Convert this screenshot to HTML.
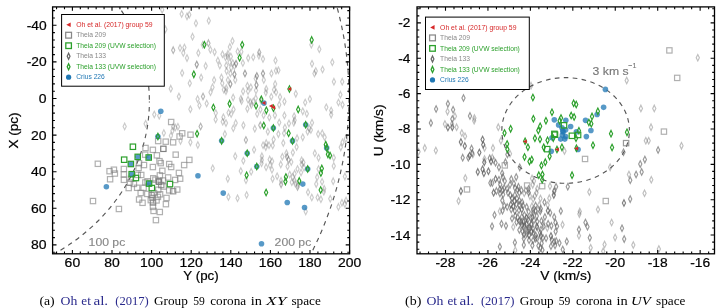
<!DOCTYPE html><html><head><meta charset="utf-8"><style>html,body{margin:0;padding:0;background:#fff;width:725px;height:308px;overflow:hidden}svg{display:block;will-change:transform}text{font-family:"Liberation Sans",sans-serif}.serif{font-family:"Liberation Serif",serif}</style></head><body>
<svg width="725" height="308" viewBox="0 0 725 308">
<defs><clipPath id="cl"><rect x="52.6" y="6.9" width="297.0" height="246.9"/></clipPath><clipPath id="cr"><rect x="417.0" y="6.9" width="297.5" height="246.9"/></clipPath></defs>
<g clip-path="url(#cl)">
<ellipse cx="-57.12" cy="101.52" rx="206.52" ry="180.89" fill="none" stroke="#444" stroke-width="1.15" stroke-dasharray="4.6 4.4" stroke-dashoffset="3.55" stroke-opacity="0.9"/>
<ellipse cx="-48.65" cy="96.84" rx="397.7" ry="367.6" fill="none" stroke="#444" stroke-width="1.15" stroke-dasharray="4.6 4.4" stroke-dashoffset="7.6" stroke-opacity="0.9"/>
<path d="M162.18 6.62L163.78 9.87L162.18 13.12L160.58 9.87Z" fill="none" stroke="#606060" stroke-width="1.15" stroke-opacity="0.33" stroke-miterlimit="3"/>
<path d="M181.66 10.68L183.26 13.93L181.66 17.18L180.06 13.93Z" fill="none" stroke="#606060" stroke-width="1.15" stroke-opacity="0.33" stroke-miterlimit="3"/>
<path d="M187.01 13.11L188.61 16.36L187.01 19.61L185.41 16.36Z" fill="none" stroke="#606060" stroke-width="1.15" stroke-opacity="0.33" stroke-miterlimit="3"/>
<path d="M189.29 11.49L190.89 14.74L189.29 17.99L187.69 14.74Z" fill="none" stroke="#606060" stroke-width="1.15" stroke-opacity="0.33" stroke-miterlimit="3"/>
<path d="M195.94 19.93L197.54 23.18L195.94 26.43L194.34 23.18Z" fill="none" stroke="#606060" stroke-width="1.15" stroke-opacity="0.33" stroke-miterlimit="3"/>
<path d="M208.77 17.5L210.37 20.75L208.77 24L207.17 20.75Z" fill="none" stroke="#606060" stroke-width="1.15" stroke-opacity="0.33" stroke-miterlimit="3"/>
<path d="M192.53 33.41L194.13 36.66L192.53 39.91L190.93 36.66Z" fill="none" stroke="#606060" stroke-width="1.15" stroke-opacity="0.33" stroke-miterlimit="3"/>
<path d="M165.42 26.1L167.02 29.35L165.42 32.6L163.82 29.35Z" fill="none" stroke="#606060" stroke-width="1.15" stroke-opacity="0.33" stroke-miterlimit="3"/>
<path d="M173.21 46.88L174.81 50.13L173.21 53.38L171.61 50.13Z" fill="none" stroke="#606060" stroke-width="1.15" stroke-opacity="0.46" stroke-miterlimit="3"/>
<path d="M180.03 44.77L181.63 48.02L180.03 51.27L178.43 48.02Z" fill="none" stroke="#606060" stroke-width="1.15" stroke-opacity="0.33" stroke-miterlimit="3"/>
<path d="M184.42 44.28L186.02 47.53L184.42 50.78L182.82 47.53Z" fill="none" stroke="#606060" stroke-width="1.15" stroke-opacity="0.33" stroke-miterlimit="3"/>
<path d="M183.28 49.64L184.88 52.89L183.28 56.14L181.68 52.89Z" fill="none" stroke="#606060" stroke-width="1.15" stroke-opacity="0.33" stroke-miterlimit="3"/>
<path d="M202.76 41.52L204.36 44.77L202.76 48.02L201.16 44.77Z" fill="none" stroke="#606060" stroke-width="1.15" stroke-opacity="0.33" stroke-miterlimit="3"/>
<path d="M208.44 39.9L210.04 43.15L208.44 46.4L206.84 43.15Z" fill="none" stroke="#606060" stroke-width="1.15" stroke-opacity="0.46" stroke-miterlimit="3"/>
<path d="M210.39 46.39L211.99 49.64L210.39 52.89L208.79 49.64Z" fill="none" stroke="#606060" stroke-width="1.15" stroke-opacity="0.33" stroke-miterlimit="3"/>
<path d="M214.61 48.83L216.21 52.08L214.61 55.33L213.01 52.08Z" fill="none" stroke="#606060" stroke-width="1.15" stroke-opacity="0.33" stroke-miterlimit="3"/>
<path d="M198.38 49.64L199.98 52.89L198.38 56.14L196.78 52.89Z" fill="none" stroke="#606060" stroke-width="1.15" stroke-opacity="0.33" stroke-miterlimit="3"/>
<path d="M232.47 37.79L234.07 41.04L232.47 44.29L230.87 41.04Z" fill="none" stroke="#606060" stroke-width="1.15" stroke-opacity="0.33" stroke-miterlimit="3"/>
<path d="M229.87 43.63L231.47 46.88L229.87 50.13L228.27 46.88Z" fill="none" stroke="#606060" stroke-width="1.15" stroke-opacity="0.33" stroke-miterlimit="3"/>
<path d="M237.66 48.19L239.26 51.44L237.66 54.69L236.06 51.44Z" fill="none" stroke="#606060" stroke-width="1.15" stroke-opacity="0.33" stroke-miterlimit="3"/>
<path d="M241.31 48.6L242.91 51.85L241.31 55.1L239.71 51.85Z" fill="none" stroke="#606060" stroke-width="1.15" stroke-opacity="0.33" stroke-miterlimit="3"/>
<path d="M222.48 51.04L224.08 54.29L222.48 57.54L220.88 54.29Z" fill="none" stroke="#606060" stroke-width="1.15" stroke-opacity="0.33" stroke-miterlimit="3"/>
<path d="M227.92 50.45L229.52 53.7L227.92 56.95L226.32 53.7Z" fill="none" stroke="#606060" stroke-width="1.15" stroke-opacity="0.33" stroke-miterlimit="3"/>
<path d="M311.36 41.52L312.96 44.77L311.36 48.02L309.76 44.77Z" fill="none" stroke="#606060" stroke-width="1.15" stroke-opacity="0.33" stroke-miterlimit="3"/>
<path d="M319.32 45.91L320.92 49.16L319.32 52.41L317.72 49.16Z" fill="none" stroke="#606060" stroke-width="1.15" stroke-opacity="0.33" stroke-miterlimit="3"/>
<path d="M259.25 49.15L260.85 52.4L259.25 55.65L257.65 52.4Z" fill="none" stroke="#606060" stroke-width="1.15" stroke-opacity="0.46" stroke-miterlimit="3"/>
<path d="M187.01 54.87L188.61 58.12L187.01 61.37L185.41 58.12Z" fill="none" stroke="#606060" stroke-width="1.15" stroke-opacity="0.33" stroke-miterlimit="3"/>
<path d="M196.75 61.36L198.35 64.61L196.75 67.86L195.15 64.61Z" fill="none" stroke="#606060" stroke-width="1.15" stroke-opacity="0.58" stroke-miterlimit="3"/>
<path d="M205.68 62.66L207.28 65.91L205.68 69.16L204.08 65.91Z" fill="none" stroke="#606060" stroke-width="1.15" stroke-opacity="0.33" stroke-miterlimit="3"/>
<path d="M182.14 69.8L183.74 73.05L182.14 76.3L180.54 73.05Z" fill="none" stroke="#606060" stroke-width="1.15" stroke-opacity="0.33" stroke-miterlimit="3"/>
<path d="M201.14 74.35L202.74 77.6L201.14 80.85L199.54 77.6Z" fill="none" stroke="#606060" stroke-width="1.15" stroke-opacity="0.33" stroke-miterlimit="3"/>
<path d="M189.77 80.03L191.37 83.28L189.77 86.53L188.17 83.28Z" fill="none" stroke="#606060" stroke-width="1.15" stroke-opacity="0.33" stroke-miterlimit="3"/>
<path d="M170.78 85.39L172.38 88.64L170.78 91.89L169.18 88.64Z" fill="none" stroke="#606060" stroke-width="1.15" stroke-opacity="0.33" stroke-miterlimit="3"/>
<path d="M178.93 93.36L180.53 96.61L178.93 99.86L177.33 96.61Z" fill="none" stroke="#606060" stroke-width="1.15" stroke-opacity="0.33" stroke-miterlimit="3"/>
<path d="M203.03 93.32L204.63 96.57L203.03 99.82L201.43 96.57Z" fill="none" stroke="#606060" stroke-width="1.15" stroke-opacity="0.46" stroke-miterlimit="3"/>
<path d="M197.6 95.87L199.2 99.12L197.6 102.37L196 99.12Z" fill="none" stroke="#606060" stroke-width="1.15" stroke-opacity="0.33" stroke-miterlimit="3"/>
<path d="M214.12 76.78L215.72 80.03L214.12 83.28L212.52 80.03Z" fill="none" stroke="#606060" stroke-width="1.15" stroke-opacity="0.33" stroke-miterlimit="3"/>
<path d="M212.5 84.09L214.1 87.34L212.5 90.59L210.9 87.34Z" fill="none" stroke="#606060" stroke-width="1.15" stroke-opacity="0.33" stroke-miterlimit="3"/>
<path d="M210.52 88.99L212.12 92.24L210.52 95.49L208.92 92.24Z" fill="none" stroke="#606060" stroke-width="1.15" stroke-opacity="0.33" stroke-miterlimit="3"/>
<path d="M217.86 57.3L219.46 60.55L217.86 63.8L216.26 60.55Z" fill="none" stroke="#606060" stroke-width="1.15" stroke-opacity="0.33" stroke-miterlimit="3"/>
<path d="M219.81 62.17L221.41 65.42L219.81 68.67L218.21 65.42Z" fill="none" stroke="#606060" stroke-width="1.15" stroke-opacity="0.33" stroke-miterlimit="3"/>
<path d="M225.49 54.06L227.09 57.31L225.49 60.56L223.89 57.31Z" fill="none" stroke="#606060" stroke-width="1.15" stroke-opacity="0.33" stroke-miterlimit="3"/>
<path d="M227.6 53.24L229.2 56.49L227.6 59.74L226 56.49Z" fill="none" stroke="#606060" stroke-width="1.15" stroke-opacity="0.33" stroke-miterlimit="3"/>
<path d="M230.84 53.24L232.44 56.49L230.84 59.74L229.24 56.49Z" fill="none" stroke="#606060" stroke-width="1.15" stroke-opacity="0.33" stroke-miterlimit="3"/>
<path d="M226.3 62.17L227.9 65.42L226.3 68.67L224.7 65.42Z" fill="none" stroke="#606060" stroke-width="1.15" stroke-opacity="0.33" stroke-miterlimit="3"/>
<path d="M229.55 58.93L231.15 62.18L229.55 65.43L227.95 62.18Z" fill="none" stroke="#606060" stroke-width="1.15" stroke-opacity="0.33" stroke-miterlimit="3"/>
<path d="M232.79 59.74L234.39 62.99L232.79 66.24L231.19 62.99Z" fill="none" stroke="#606060" stroke-width="1.15" stroke-opacity="0.33" stroke-miterlimit="3"/>
<path d="M236.04 60.55L237.64 63.8L236.04 67.05L234.44 63.8Z" fill="none" stroke="#606060" stroke-width="1.15" stroke-opacity="0.58" stroke-miterlimit="3"/>
<path d="M234.42 62.98L236.02 66.23L234.42 69.48L232.82 66.23Z" fill="none" stroke="#606060" stroke-width="1.15" stroke-opacity="0.33" stroke-miterlimit="3"/>
<path d="M231.17 64.61L232.77 67.86L231.17 71.11L229.57 67.86Z" fill="none" stroke="#606060" stroke-width="1.15" stroke-opacity="0.33" stroke-miterlimit="3"/>
<path d="M226.62 67.85L228.22 71.1L226.62 74.35L225.02 71.1Z" fill="none" stroke="#606060" stroke-width="1.15" stroke-opacity="0.33" stroke-miterlimit="3"/>
<path d="M230.36 70.29L231.96 73.54L230.36 76.79L228.76 73.54Z" fill="none" stroke="#606060" stroke-width="1.15" stroke-opacity="0.33" stroke-miterlimit="3"/>
<path d="M221.43 74.35L223.03 77.6L221.43 80.85L219.83 77.6Z" fill="none" stroke="#606060" stroke-width="1.15" stroke-opacity="0.33" stroke-miterlimit="3"/>
<path d="M227.92 76.78L229.52 80.03L227.92 83.28L226.32 80.03Z" fill="none" stroke="#606060" stroke-width="1.15" stroke-opacity="0.33" stroke-miterlimit="3"/>
<path d="M222.24 80.03L223.84 83.28L222.24 86.53L220.64 83.28Z" fill="none" stroke="#606060" stroke-width="1.15" stroke-opacity="0.33" stroke-miterlimit="3"/>
<path d="M234.42 71.1L236.02 74.35L234.42 77.6L232.82 74.35Z" fill="none" stroke="#606060" stroke-width="1.15" stroke-opacity="0.58" stroke-miterlimit="3"/>
<path d="M235.23 76.78L236.83 80.03L235.23 83.28L233.63 80.03Z" fill="none" stroke="#606060" stroke-width="1.15" stroke-opacity="0.33" stroke-miterlimit="3"/>
<path d="M230.36 80.84L231.96 84.09L230.36 87.34L228.76 84.09Z" fill="none" stroke="#606060" stroke-width="1.15" stroke-opacity="0.58" stroke-miterlimit="3"/>
<path d="M226.3 84.9L227.9 88.15L226.3 91.4L224.7 88.15Z" fill="none" stroke="#606060" stroke-width="1.15" stroke-opacity="0.33" stroke-miterlimit="3"/>
<path d="M223.86 86.52L225.46 89.77L223.86 93.02L222.26 89.77Z" fill="none" stroke="#606060" stroke-width="1.15" stroke-opacity="0.33" stroke-miterlimit="3"/>
<path d="M242.86 59.74L244.46 62.99L242.86 66.24L241.26 62.99Z" fill="none" stroke="#606060" stroke-width="1.15" stroke-opacity="0.33" stroke-miterlimit="3"/>
<path d="M244.97 70.29L246.57 73.54L244.97 76.79L243.37 73.54Z" fill="none" stroke="#606060" stroke-width="1.15" stroke-opacity="0.58" stroke-miterlimit="3"/>
<path d="M248.21 54.87L249.81 58.12L248.21 61.37L246.61 58.12Z" fill="none" stroke="#606060" stroke-width="1.15" stroke-opacity="0.33" stroke-miterlimit="3"/>
<path d="M247.4 82.46L249 85.71L247.4 88.96L245.8 85.71Z" fill="none" stroke="#606060" stroke-width="1.15" stroke-opacity="0.33" stroke-miterlimit="3"/>
<path d="M243.1 88.1L244.7 91.35L243.1 94.6L241.5 91.35Z" fill="none" stroke="#606060" stroke-width="1.15" stroke-opacity="0.33" stroke-miterlimit="3"/>
<path d="M233.15 94.19L234.75 97.44L233.15 100.69L231.55 97.44Z" fill="none" stroke="#606060" stroke-width="1.15" stroke-opacity="0.33" stroke-miterlimit="3"/>
<path d="M240.91 95.45L242.51 98.7L240.91 101.95L239.31 98.7Z" fill="none" stroke="#606060" stroke-width="1.15" stroke-opacity="0.33" stroke-miterlimit="3"/>
<path d="M258.93 52.43L260.53 55.68L258.93 58.93L257.33 55.68Z" fill="none" stroke="#606060" stroke-width="1.15" stroke-opacity="0.33" stroke-miterlimit="3"/>
<path d="M253.25 54.06L254.85 57.31L253.25 60.56L251.65 57.31Z" fill="none" stroke="#606060" stroke-width="1.15" stroke-opacity="0.33" stroke-miterlimit="3"/>
<path d="M262.99 55.68L264.59 58.93L262.99 62.18L261.39 58.93Z" fill="none" stroke="#606060" stroke-width="1.15" stroke-opacity="0.33" stroke-miterlimit="3"/>
<path d="M275.49 57.3L277.09 60.55L275.49 63.8L273.89 60.55Z" fill="none" stroke="#606060" stroke-width="1.15" stroke-opacity="0.33" stroke-miterlimit="3"/>
<path d="M312.01 60.55L313.61 63.8L312.01 67.05L310.41 63.8Z" fill="none" stroke="#606060" stroke-width="1.15" stroke-opacity="0.33" stroke-miterlimit="3"/>
<path d="M332.31 58.93L333.91 62.18L332.31 65.43L330.71 62.18Z" fill="none" stroke="#606060" stroke-width="1.15" stroke-opacity="0.33" stroke-miterlimit="3"/>
<path d="M322.56 66.23L324.16 69.48L322.56 72.73L320.96 69.48Z" fill="none" stroke="#606060" stroke-width="1.15" stroke-opacity="0.33" stroke-miterlimit="3"/>
<path d="M315.75 67.85L317.35 71.1L315.75 74.35L314.15 71.1Z" fill="none" stroke="#606060" stroke-width="1.15" stroke-opacity="0.33" stroke-miterlimit="3"/>
<path d="M314.45 70.29L316.05 73.54L314.45 76.79L312.85 73.54Z" fill="none" stroke="#606060" stroke-width="1.15" stroke-opacity="0.33" stroke-miterlimit="3"/>
<path d="M333.93 78.41L335.53 81.66L333.93 84.91L332.33 81.66Z" fill="none" stroke="#606060" stroke-width="1.15" stroke-opacity="0.33" stroke-miterlimit="3"/>
<path d="M342.21 78.41L343.81 81.66L342.21 84.91L340.61 81.66Z" fill="none" stroke="#606060" stroke-width="1.15" stroke-opacity="0.33" stroke-miterlimit="3"/>
<path d="M340.42 91.39L342.02 94.64L340.42 97.89L338.82 94.64Z" fill="none" stroke="#606060" stroke-width="1.15" stroke-opacity="0.33" stroke-miterlimit="3"/>
<path d="M309.9 95.69L311.5 98.94L309.9 102.19L308.3 98.94Z" fill="none" stroke="#606060" stroke-width="1.15" stroke-opacity="0.33" stroke-miterlimit="3"/>
<path d="M271.43 70.29L273.03 73.54L271.43 76.79L269.83 73.54Z" fill="none" stroke="#606060" stroke-width="1.15" stroke-opacity="0.33" stroke-miterlimit="3"/>
<path d="M275.97 67.53L277.57 70.78L275.97 74.03L274.37 70.78Z" fill="none" stroke="#606060" stroke-width="1.15" stroke-opacity="0.33" stroke-miterlimit="3"/>
<path d="M278.41 67.04L280.01 70.29L278.41 73.54L276.81 70.29Z" fill="none" stroke="#606060" stroke-width="1.15" stroke-opacity="0.33" stroke-miterlimit="3"/>
<path d="M262.99 70.29L264.59 73.54L262.99 76.79L261.39 73.54Z" fill="none" stroke="#606060" stroke-width="1.15" stroke-opacity="0.58" stroke-miterlimit="3"/>
<path d="M263.8 76.78L265.4 80.03L263.8 83.28L262.2 80.03Z" fill="none" stroke="#606060" stroke-width="1.15" stroke-opacity="0.33" stroke-miterlimit="3"/>
<path d="M256.82 72.72L258.42 75.97L256.82 79.22L255.22 75.97Z" fill="none" stroke="#606060" stroke-width="1.15" stroke-opacity="0.58" stroke-miterlimit="3"/>
<path d="M255.68 75.16L257.28 78.41L255.68 81.66L254.08 78.41Z" fill="none" stroke="#606060" stroke-width="1.15" stroke-opacity="0.33" stroke-miterlimit="3"/>
<path d="M256.49 81.65L258.09 84.9L256.49 88.15L254.89 84.9Z" fill="none" stroke="#606060" stroke-width="1.15" stroke-opacity="0.58" stroke-miterlimit="3"/>
<path d="M256.01 87.29L257.61 90.54L256.01 93.79L254.41 90.54Z" fill="none" stroke="#606060" stroke-width="1.15" stroke-opacity="0.33" stroke-miterlimit="3"/>
<path d="M250.81 84.09L252.41 87.34L250.81 90.59L249.21 87.34Z" fill="none" stroke="#606060" stroke-width="1.15" stroke-opacity="0.33" stroke-miterlimit="3"/>
<path d="M266.23 85.71L267.83 88.96L266.23 92.21L264.63 88.96Z" fill="none" stroke="#606060" stroke-width="1.15" stroke-opacity="0.33" stroke-miterlimit="3"/>
<path d="M275.16 80.84L276.76 84.09L275.16 87.34L273.56 84.09Z" fill="none" stroke="#606060" stroke-width="1.15" stroke-opacity="0.33" stroke-miterlimit="3"/>
<path d="M274.03 86.52L275.63 89.77L274.03 93.02L272.43 89.77Z" fill="none" stroke="#606060" stroke-width="1.15" stroke-opacity="0.33" stroke-miterlimit="3"/>
<path d="M276.06 88.99L277.66 92.24L276.06 95.49L274.46 92.24Z" fill="none" stroke="#606060" stroke-width="1.15" stroke-opacity="0.33" stroke-miterlimit="3"/>
<path d="M265.83 89.23L267.43 92.48L265.83 95.73L264.23 92.48Z" fill="none" stroke="#606060" stroke-width="1.15" stroke-opacity="0.33" stroke-miterlimit="3"/>
<path d="M271.27 93.54L272.87 96.79L271.27 100.04L269.67 96.79Z" fill="none" stroke="#606060" stroke-width="1.15" stroke-opacity="0.33" stroke-miterlimit="3"/>
<path d="M280.03 93.83L281.63 97.08L280.03 100.33L278.43 97.08Z" fill="none" stroke="#606060" stroke-width="1.15" stroke-opacity="0.33" stroke-miterlimit="3"/>
<path d="M295.78 90.58L297.38 93.83L295.78 97.08L294.18 93.83Z" fill="none" stroke="#606060" stroke-width="1.15" stroke-opacity="0.33" stroke-miterlimit="3"/>
<path d="M255.76 94.92L257.36 98.17L255.76 101.42L254.16 98.17Z" fill="none" stroke="#606060" stroke-width="1.15" stroke-opacity="0.33" stroke-miterlimit="3"/>
<path d="M124.68 123.15L126.28 126.4L124.68 129.65L123.08 126.4Z" fill="none" stroke="#606060" stroke-width="1.15" stroke-opacity="0.33" stroke-miterlimit="3"/>
<path d="M145.62 120.52L147.22 123.77L145.62 127.02L144.02 123.77Z" fill="none" stroke="#606060" stroke-width="1.15" stroke-opacity="0.33" stroke-miterlimit="3"/>
<path d="M257.22 110.74L258.82 113.99L257.22 117.24L255.62 113.99Z" fill="none" stroke="#606060" stroke-width="1.15" stroke-opacity="0.33" stroke-miterlimit="3"/>
<path d="M253.25 98.37L254.85 101.62L253.25 104.87L251.65 101.62Z" fill="none" stroke="#606060" stroke-width="1.15" stroke-opacity="0.33" stroke-miterlimit="3"/>
<path d="M261.04 97.56L262.64 100.81L261.04 104.06L259.44 100.81Z" fill="none" stroke="#606060" stroke-width="1.15" stroke-opacity="0.33" stroke-miterlimit="3"/>
<path d="M274.92 112.12L276.52 115.37L274.92 118.62L273.32 115.37Z" fill="none" stroke="#606060" stroke-width="1.15" stroke-opacity="0.33" stroke-miterlimit="3"/>
<path d="M269.32 114.23L270.92 117.48L269.32 120.73L267.72 117.48Z" fill="none" stroke="#606060" stroke-width="1.15" stroke-opacity="0.33" stroke-miterlimit="3"/>
<path d="M284.42 112.17L286.02 115.42L284.42 118.67L282.82 115.42Z" fill="none" stroke="#606060" stroke-width="1.15" stroke-opacity="0.33" stroke-miterlimit="3"/>
<path d="M284.42 98.37L286.02 101.62L284.42 104.87L282.82 101.62Z" fill="none" stroke="#606060" stroke-width="1.15" stroke-opacity="0.33" stroke-miterlimit="3"/>
<path d="M279.22 101.62L280.82 104.87L279.22 108.12L277.62 104.87Z" fill="none" stroke="#606060" stroke-width="1.15" stroke-opacity="0.33" stroke-miterlimit="3"/>
<path d="M294.16 112.98L295.76 116.23L294.16 119.48L292.56 116.23Z" fill="none" stroke="#606060" stroke-width="1.15" stroke-opacity="0.33" stroke-miterlimit="3"/>
<path d="M294.64 117.04L296.24 120.29L294.64 123.54L293.04 120.29Z" fill="none" stroke="#606060" stroke-width="1.15" stroke-opacity="0.33" stroke-miterlimit="3"/>
<path d="M293.83 119.48L295.43 122.73L293.83 125.98L292.23 122.73Z" fill="none" stroke="#606060" stroke-width="1.15" stroke-opacity="0.33" stroke-miterlimit="3"/>
<path d="M288.96 120.29L290.56 123.54L288.96 126.79L287.36 123.54Z" fill="none" stroke="#606060" stroke-width="1.15" stroke-opacity="0.33" stroke-miterlimit="3"/>
<path d="M302.76 108.11L304.36 111.36L302.76 114.61L301.16 111.36Z" fill="none" stroke="#606060" stroke-width="1.15" stroke-opacity="0.33" stroke-miterlimit="3"/>
<path d="M306.82 110.55L308.42 113.8L306.82 117.05L305.22 113.8Z" fill="none" stroke="#606060" stroke-width="1.15" stroke-opacity="0.33" stroke-miterlimit="3"/>
<path d="M305.19 99.19L306.79 102.44L305.19 105.69L303.59 102.44Z" fill="none" stroke="#606060" stroke-width="1.15" stroke-opacity="0.33" stroke-miterlimit="3"/>
<path d="M312.01 119.48L313.61 122.73L312.01 125.98L310.41 122.73Z" fill="none" stroke="#606060" stroke-width="1.15" stroke-opacity="0.33" stroke-miterlimit="3"/>
<path d="M309.25 125.16L310.85 128.41L309.25 131.66L307.65 128.41Z" fill="none" stroke="#606060" stroke-width="1.15" stroke-opacity="0.33" stroke-miterlimit="3"/>
<path d="M310.88 126.78L312.48 130.03L310.88 133.28L309.28 130.03Z" fill="none" stroke="#606060" stroke-width="1.15" stroke-opacity="0.33" stroke-miterlimit="3"/>
<path d="M307.63 128.41L309.23 131.66L307.63 134.91L306.03 131.66Z" fill="none" stroke="#606060" stroke-width="1.15" stroke-opacity="0.33" stroke-miterlimit="3"/>
<path d="M326.3 104.06L327.9 107.31L326.3 110.56L324.7 107.31Z" fill="none" stroke="#606060" stroke-width="1.15" stroke-opacity="0.33" stroke-miterlimit="3"/>
<path d="M331.17 107.3L332.77 110.55L331.17 113.8L329.57 110.55Z" fill="none" stroke="#606060" stroke-width="1.15" stroke-opacity="0.33" stroke-miterlimit="3"/>
<path d="M331.17 111.36L332.77 114.61L331.17 117.86L329.57 114.61Z" fill="none" stroke="#606060" stroke-width="1.15" stroke-opacity="0.33" stroke-miterlimit="3"/>
<path d="M338.47 99.19L340.07 102.44L338.47 105.69L336.87 102.44Z" fill="none" stroke="#606060" stroke-width="1.15" stroke-opacity="0.33" stroke-miterlimit="3"/>
<path d="M342.53 101.62L344.13 104.87L342.53 108.12L340.93 104.87Z" fill="none" stroke="#606060" stroke-width="1.15" stroke-opacity="0.33" stroke-miterlimit="3"/>
<path d="M318.18 130.84L319.78 134.09L318.18 137.34L316.58 134.09Z" fill="none" stroke="#606060" stroke-width="1.15" stroke-opacity="0.33" stroke-miterlimit="3"/>
<path d="M322.24 130.03L323.84 133.28L322.24 136.53L320.64 133.28Z" fill="none" stroke="#606060" stroke-width="1.15" stroke-opacity="0.33" stroke-miterlimit="3"/>
<path d="M324.68 134.09L326.28 137.34L324.68 140.59L323.08 137.34Z" fill="none" stroke="#606060" stroke-width="1.15" stroke-opacity="0.33" stroke-miterlimit="3"/>
<path d="M302.76 134.09L304.36 137.34L302.76 140.59L301.16 137.34Z" fill="none" stroke="#606060" stroke-width="1.15" stroke-opacity="0.33" stroke-miterlimit="3"/>
<path d="M297.08 134.9L298.68 138.15L297.08 141.4L295.48 138.15Z" fill="none" stroke="#606060" stroke-width="1.15" stroke-opacity="0.33" stroke-miterlimit="3"/>
<path d="M284.9 124.35L286.5 127.6L284.9 130.85L283.3 127.6Z" fill="none" stroke="#606060" stroke-width="1.15" stroke-opacity="0.33" stroke-miterlimit="3"/>
<path d="M284.09 130.03L285.69 133.28L284.09 136.53L282.49 133.28Z" fill="none" stroke="#606060" stroke-width="1.15" stroke-opacity="0.33" stroke-miterlimit="3"/>
<path d="M278.41 130.84L280.01 134.09L278.41 137.34L276.81 134.09Z" fill="none" stroke="#606060" stroke-width="1.15" stroke-opacity="0.33" stroke-miterlimit="3"/>
<path d="M273.64 136.28L275.24 139.53L273.64 142.78L272.04 139.53Z" fill="none" stroke="#606060" stroke-width="1.15" stroke-opacity="0.33" stroke-miterlimit="3"/>
<path d="M267.86 128.41L269.46 131.66L267.86 134.91L266.26 131.66Z" fill="none" stroke="#606060" stroke-width="1.15" stroke-opacity="0.33" stroke-miterlimit="3"/>
<path d="M254.81 125.4L256.41 128.65L254.81 131.9L253.21 128.65Z" fill="none" stroke="#606060" stroke-width="1.15" stroke-opacity="0.33" stroke-miterlimit="3"/>
<path d="M260.29 122.04L261.89 125.29L260.29 128.54L258.69 125.29Z" fill="none" stroke="#606060" stroke-width="1.15" stroke-opacity="0.46" stroke-miterlimit="3"/>
<path d="M266.2 139.85L267.8 143.1L266.2 146.35L264.6 143.1Z" fill="none" stroke="#606060" stroke-width="1.15" stroke-opacity="0.33" stroke-miterlimit="3"/>
<path d="M263.08 142.04L264.68 145.29L263.08 148.54L261.48 145.29Z" fill="none" stroke="#606060" stroke-width="1.15" stroke-opacity="0.33" stroke-miterlimit="3"/>
<path d="M283.28 139.77L284.88 143.02L283.28 146.27L281.68 143.02Z" fill="none" stroke="#606060" stroke-width="1.15" stroke-opacity="0.33" stroke-miterlimit="3"/>
<path d="M272.73 142.2L274.33 145.45L272.73 148.7L271.13 145.45Z" fill="none" stroke="#606060" stroke-width="1.15" stroke-opacity="0.33" stroke-miterlimit="3"/>
<path d="M296.61 143.67L298.21 146.92L296.61 150.17L295.01 146.92Z" fill="none" stroke="#606060" stroke-width="1.15" stroke-opacity="0.33" stroke-miterlimit="3"/>
<path d="M342.53 138.96L344.13 142.21L342.53 145.46L340.93 142.21Z" fill="none" stroke="#606060" stroke-width="1.15" stroke-opacity="0.33" stroke-miterlimit="3"/>
<path d="M345.78 135.71L347.38 138.96L345.78 142.21L344.18 138.96Z" fill="none" stroke="#606060" stroke-width="1.15" stroke-opacity="0.33" stroke-miterlimit="3"/>
<path d="M206.69 100.29L208.29 103.54L206.69 106.79L205.09 103.54Z" fill="none" stroke="#606060" stroke-width="1.15" stroke-opacity="0.33" stroke-miterlimit="3"/>
<path d="M215.78 109.7L217.38 112.95L215.78 116.2L214.18 112.95Z" fill="none" stroke="#606060" stroke-width="1.15" stroke-opacity="0.33" stroke-miterlimit="3"/>
<path d="M215.65 116.2L217.25 119.45L215.65 122.7L214.05 119.45Z" fill="none" stroke="#606060" stroke-width="1.15" stroke-opacity="0.33" stroke-miterlimit="3"/>
<path d="M223.38 114.02L224.98 117.27L223.38 120.52L221.78 117.27Z" fill="none" stroke="#606060" stroke-width="1.15" stroke-opacity="0.33" stroke-miterlimit="3"/>
<path d="M225.97 119.87L227.57 123.12L225.97 126.37L224.37 123.12Z" fill="none" stroke="#606060" stroke-width="1.15" stroke-opacity="0.33" stroke-miterlimit="3"/>
<path d="M222.73 118.57L224.33 121.82L222.73 125.07L221.13 121.82Z" fill="none" stroke="#606060" stroke-width="1.15" stroke-opacity="0.33" stroke-miterlimit="3"/>
<path d="M228.57 109.48L230.17 112.73L228.57 115.98L226.97 112.73Z" fill="none" stroke="#606060" stroke-width="1.15" stroke-opacity="0.33" stroke-miterlimit="3"/>
<path d="M231.17 110.78L232.77 114.03L231.17 117.28L229.57 114.03Z" fill="none" stroke="#606060" stroke-width="1.15" stroke-opacity="0.33" stroke-miterlimit="3"/>
<path d="M233.51 106.23L235.11 109.48L233.51 112.73L231.91 109.48Z" fill="none" stroke="#606060" stroke-width="1.15" stroke-opacity="0.33" stroke-miterlimit="3"/>
<path d="M241.56 97.79L243.16 101.04L241.56 104.29L239.96 101.04Z" fill="none" stroke="#606060" stroke-width="1.15" stroke-opacity="0.33" stroke-miterlimit="3"/>
<path d="M235.71 119.87L237.31 123.12L235.71 126.37L234.11 123.12Z" fill="none" stroke="#606060" stroke-width="1.15" stroke-opacity="0.33" stroke-miterlimit="3"/>
<path d="M243.41 122.11L245.01 125.36L243.41 128.61L241.81 125.36Z" fill="none" stroke="#606060" stroke-width="1.15" stroke-opacity="0.33" stroke-miterlimit="3"/>
<path d="M247.4 105.58L249 108.83L247.4 112.08L245.8 108.83Z" fill="none" stroke="#606060" stroke-width="1.15" stroke-opacity="0.33" stroke-miterlimit="3"/>
<path d="M250.65 99.09L252.25 102.34L250.65 105.59L249.05 102.34Z" fill="none" stroke="#606060" stroke-width="1.15" stroke-opacity="0.33" stroke-miterlimit="3"/>
<path d="M251.3 101.69L252.9 104.94L251.3 108.19L249.7 104.94Z" fill="none" stroke="#606060" stroke-width="1.15" stroke-opacity="0.33" stroke-miterlimit="3"/>
<path d="M248.05 96.49L249.65 99.74L248.05 102.99L246.45 99.74Z" fill="none" stroke="#606060" stroke-width="1.15" stroke-opacity="0.33" stroke-miterlimit="3"/>
<path d="M248.05 88.05L249.65 91.3L248.05 94.55L246.45 91.3Z" fill="none" stroke="#606060" stroke-width="1.15" stroke-opacity="0.33" stroke-miterlimit="3"/>
<path d="M260.39 106.23L261.99 109.48L260.39 112.73L258.79 109.48Z" fill="none" stroke="#606060" stroke-width="1.15" stroke-opacity="0.33" stroke-miterlimit="3"/>
<path d="M225.97 88.05L227.57 91.3L225.97 94.55L224.37 91.3Z" fill="none" stroke="#606060" stroke-width="1.15" stroke-opacity="0.33" stroke-miterlimit="3"/>
<path d="M200.63 123.24L202.23 126.49L200.63 129.74L199.03 126.49Z" fill="none" stroke="#606060" stroke-width="1.15" stroke-opacity="0.46" stroke-miterlimit="3"/>
<path d="M263.64 112.07L265.24 115.32L263.64 118.57L262.04 115.32Z" fill="none" stroke="#606060" stroke-width="1.15" stroke-opacity="0.33" stroke-miterlimit="3"/>
<path d="M279.22 119.22L280.82 122.47L279.22 125.72L277.62 122.47Z" fill="none" stroke="#606060" stroke-width="1.15" stroke-opacity="0.33" stroke-miterlimit="3"/>
<path d="M154.29 111.23L155.89 114.48L154.29 117.73L152.69 114.48Z" fill="none" stroke="#606060" stroke-width="1.15" stroke-opacity="0.33" stroke-miterlimit="3"/>
<path d="M159.22 112.53L160.82 115.78L159.22 119.03L157.62 115.78Z" fill="none" stroke="#606060" stroke-width="1.15" stroke-opacity="0.33" stroke-miterlimit="3"/>
<path d="M190.39 106.04L191.99 109.29L190.39 112.54L188.79 109.29Z" fill="none" stroke="#606060" stroke-width="1.15" stroke-opacity="0.33" stroke-miterlimit="3"/>
<path d="M199.48 102.14L201.08 105.39L199.48 108.64L197.88 105.39Z" fill="none" stroke="#606060" stroke-width="1.15" stroke-opacity="0.33" stroke-miterlimit="3"/>
<path d="M173.12 123.57L174.72 126.82L173.12 130.07L171.52 126.82Z" fill="none" stroke="#606060" stroke-width="1.15" stroke-opacity="0.33" stroke-miterlimit="3"/>
<path d="M175.32 124.22L176.92 127.47L175.32 130.72L173.72 127.47Z" fill="none" stroke="#606060" stroke-width="1.15" stroke-opacity="0.33" stroke-miterlimit="3"/>
<path d="M177.92 123.57L179.52 126.82L177.92 130.07L176.32 126.82Z" fill="none" stroke="#606060" stroke-width="1.15" stroke-opacity="0.33" stroke-miterlimit="3"/>
<path d="M163.83 129.7L165.43 132.95L163.83 136.2L162.23 132.95Z" fill="none" stroke="#606060" stroke-width="1.15" stroke-opacity="0.33" stroke-miterlimit="3"/>
<path d="M172.47 127.43L174.07 130.68L172.47 133.93L170.87 130.68Z" fill="none" stroke="#606060" stroke-width="1.15" stroke-opacity="0.33" stroke-miterlimit="3"/>
<path d="M190.39 139.09L191.99 142.34L190.39 145.59L188.79 142.34Z" fill="none" stroke="#606060" stroke-width="1.15" stroke-opacity="0.33" stroke-miterlimit="3"/>
<path d="M197.82 141.78L199.42 145.03L197.82 148.28L196.22 145.03Z" fill="none" stroke="#606060" stroke-width="1.15" stroke-opacity="0.33" stroke-miterlimit="3"/>
<path d="M170.91 132.59L172.51 135.84L170.91 139.09L169.31 135.84Z" fill="none" stroke="#606060" stroke-width="1.15" stroke-opacity="0.33" stroke-miterlimit="3"/>
<path d="M180.52 137.79L182.12 141.04L180.52 144.29L178.92 141.04Z" fill="none" stroke="#606060" stroke-width="1.15" stroke-opacity="0.33" stroke-miterlimit="3"/>
<path d="M212.73 165.06L214.33 168.31L212.73 171.56L211.13 168.31Z" fill="none" stroke="#606060" stroke-width="1.15" stroke-opacity="0.33" stroke-miterlimit="3"/>
<path d="M224.87 130.84L226.47 134.09L224.87 137.34L223.27 134.09Z" fill="none" stroke="#606060" stroke-width="1.15" stroke-opacity="0.33" stroke-miterlimit="3"/>
<path d="M233.31 125L234.91 128.25L233.31 131.5L231.71 128.25Z" fill="none" stroke="#606060" stroke-width="1.15" stroke-opacity="0.33" stroke-miterlimit="3"/>
<path d="M245.91 136.69L247.51 139.94L245.91 143.19L244.31 139.94Z" fill="none" stroke="#606060" stroke-width="1.15" stroke-opacity="0.46" stroke-miterlimit="3"/>
<path d="M254.09 146.43L255.69 149.68L254.09 152.93L252.49 149.68Z" fill="none" stroke="#606060" stroke-width="1.15" stroke-opacity="0.33" stroke-miterlimit="3"/>
<path d="M235.26 152.92L236.86 156.17L235.26 159.42L233.66 156.17Z" fill="none" stroke="#606060" stroke-width="1.15" stroke-opacity="0.33" stroke-miterlimit="3"/>
<path d="M243.34 157.43L244.94 160.68L243.34 163.93L241.74 160.68Z" fill="none" stroke="#606060" stroke-width="1.15" stroke-opacity="0.33" stroke-miterlimit="3"/>
<path d="M269.03 141.88L270.63 145.13L269.03 148.38L267.43 145.13Z" fill="none" stroke="#606060" stroke-width="1.15" stroke-opacity="0.33" stroke-miterlimit="3"/>
<path d="M265.78 143.83L267.38 147.08L265.78 150.33L264.18 147.08Z" fill="none" stroke="#606060" stroke-width="1.15" stroke-opacity="0.33" stroke-miterlimit="3"/>
<path d="M261.88 152.92L263.48 156.17L261.88 159.42L260.28 156.17Z" fill="none" stroke="#606060" stroke-width="1.15" stroke-opacity="0.33" stroke-miterlimit="3"/>
<path d="M261.88 156.81L263.48 160.06L261.88 163.31L260.28 160.06Z" fill="none" stroke="#606060" stroke-width="1.15" stroke-opacity="0.33" stroke-miterlimit="3"/>
<path d="M269.68 156.17L271.28 159.42L269.68 162.67L268.08 159.42Z" fill="none" stroke="#606060" stroke-width="1.15" stroke-opacity="0.33" stroke-miterlimit="3"/>
<path d="M272.11 158.08L273.71 161.33L272.11 164.58L270.51 161.33Z" fill="none" stroke="#606060" stroke-width="1.15" stroke-opacity="0.33" stroke-miterlimit="3"/>
<path d="M240.78 167.79L242.38 171.04L240.78 174.29L239.18 171.04Z" fill="none" stroke="#606060" stroke-width="1.15" stroke-opacity="0.33" stroke-miterlimit="3"/>
<path d="M251.17 168.44L252.77 171.69L251.17 174.94L249.57 171.69Z" fill="none" stroke="#606060" stroke-width="1.15" stroke-opacity="0.33" stroke-miterlimit="3"/>
<path d="M245.97 176.88L247.57 180.13L245.97 183.38L244.37 180.13Z" fill="none" stroke="#606060" stroke-width="1.15" stroke-opacity="0.33" stroke-miterlimit="3"/>
<path d="M227.79 175.58L229.39 178.83L227.79 182.08L226.19 178.83Z" fill="none" stroke="#606060" stroke-width="1.15" stroke-opacity="0.33" stroke-miterlimit="3"/>
<path d="M228.44 193.76L230.04 197.01L228.44 200.26L226.84 197.01Z" fill="none" stroke="#606060" stroke-width="1.15" stroke-opacity="0.33" stroke-miterlimit="3"/>
<path d="M246.62 191.81L248.22 195.06L246.62 198.31L245.02 195.06Z" fill="none" stroke="#606060" stroke-width="1.15" stroke-opacity="0.33" stroke-miterlimit="3"/>
<path d="M237.53 195.06L239.13 198.31L237.53 201.56L235.93 198.31Z" fill="none" stroke="#606060" stroke-width="1.15" stroke-opacity="0.33" stroke-miterlimit="3"/>
<path d="M261.56 160L263.16 163.25L261.56 166.5L259.96 163.25Z" fill="none" stroke="#606060" stroke-width="1.15" stroke-opacity="0.33" stroke-miterlimit="3"/>
<path d="M266.1 163.89L267.7 167.14L266.1 170.39L264.5 167.14Z" fill="none" stroke="#606060" stroke-width="1.15" stroke-opacity="0.33" stroke-miterlimit="3"/>
<path d="M270 161.94L271.6 165.19L270 168.44L268.4 165.19Z" fill="none" stroke="#606060" stroke-width="1.15" stroke-opacity="0.33" stroke-miterlimit="3"/>
<path d="M271.95 166.49L273.55 169.74L271.95 172.99L270.35 169.74Z" fill="none" stroke="#606060" stroke-width="1.15" stroke-opacity="0.33" stroke-miterlimit="3"/>
<path d="M280.78 161.17L282.38 164.42L280.78 167.67L279.18 164.42Z" fill="none" stroke="#606060" stroke-width="1.15" stroke-opacity="0.33" stroke-miterlimit="3"/>
<path d="M287.56 163.31L289.16 166.56L287.56 169.81L285.96 166.56Z" fill="none" stroke="#606060" stroke-width="1.15" stroke-opacity="0.33" stroke-miterlimit="3"/>
<path d="M288.51 156.59L290.11 159.84L288.51 163.09L286.91 159.84Z" fill="none" stroke="#606060" stroke-width="1.15" stroke-opacity="0.46" stroke-miterlimit="3"/>
<path d="M277.14 172.98L278.74 176.23L277.14 179.48L275.54 176.23Z" fill="none" stroke="#606060" stroke-width="1.15" stroke-opacity="0.33" stroke-miterlimit="3"/>
<path d="M272.6 175.58L274.2 178.83L272.6 182.08L271 178.83Z" fill="none" stroke="#606060" stroke-width="1.15" stroke-opacity="0.33" stroke-miterlimit="3"/>
<path d="M281.04 177.53L282.64 180.78L281.04 184.03L279.44 180.78Z" fill="none" stroke="#606060" stroke-width="1.15" stroke-opacity="0.33" stroke-miterlimit="3"/>
<path d="M281.1 181.1L282.7 184.35L281.1 187.6L279.5 184.35Z" fill="none" stroke="#606060" stroke-width="1.15" stroke-opacity="0.46" stroke-miterlimit="3"/>
<path d="M289.71 171.29L291.31 174.54L289.71 177.79L288.11 174.54Z" fill="none" stroke="#606060" stroke-width="1.15" stroke-opacity="0.33" stroke-miterlimit="3"/>
<path d="M292.73 173.63L294.33 176.88L292.73 180.13L291.13 176.88Z" fill="none" stroke="#606060" stroke-width="1.15" stroke-opacity="0.33" stroke-miterlimit="3"/>
<path d="M294.68 177.53L296.28 180.78L294.68 184.03L293.08 180.78Z" fill="none" stroke="#606060" stroke-width="1.15" stroke-opacity="0.33" stroke-miterlimit="3"/>
<path d="M291.82 178.96L293.42 182.21L291.82 185.46L290.22 182.21Z" fill="none" stroke="#606060" stroke-width="1.15" stroke-opacity="0.33" stroke-miterlimit="3"/>
<path d="M297.92 181.43L299.52 184.68L297.92 187.93L296.32 184.68Z" fill="none" stroke="#606060" stroke-width="1.15" stroke-opacity="0.33" stroke-miterlimit="3"/>
<path d="M291.27 158.7L292.87 161.95L291.27 165.2L289.67 161.95Z" fill="none" stroke="#606060" stroke-width="1.15" stroke-opacity="0.33" stroke-miterlimit="3"/>
<path d="M333.76 154.61L335.36 157.86L333.76 161.11L332.16 157.86Z" fill="none" stroke="#606060" stroke-width="1.15" stroke-opacity="0.33" stroke-miterlimit="3"/>
<path d="M333.76 162.79L335.36 166.04L333.76 169.29L332.16 166.04Z" fill="none" stroke="#606060" stroke-width="1.15" stroke-opacity="0.33" stroke-miterlimit="3"/>
<path d="M340.78 144.09L342.38 147.34L340.78 150.59L339.18 147.34Z" fill="none" stroke="#606060" stroke-width="1.15" stroke-opacity="0.33" stroke-miterlimit="3"/>
<path d="M318.57 154.61L320.17 157.86L318.57 161.11L316.97 157.86Z" fill="none" stroke="#606060" stroke-width="1.15" stroke-opacity="0.33" stroke-miterlimit="3"/>
<path d="M314.83 149.93L316.43 153.18L314.83 156.43L313.23 153.18Z" fill="none" stroke="#606060" stroke-width="1.15" stroke-opacity="0.33" stroke-miterlimit="3"/>
<path d="M292.86 149.35L294.46 152.6L292.86 155.85L291.26 152.6Z" fill="none" stroke="#606060" stroke-width="1.15" stroke-opacity="0.33" stroke-miterlimit="3"/>
<path d="M286.43 149.93L288.03 153.18L286.43 156.43L284.83 153.18Z" fill="none" stroke="#606060" stroke-width="1.15" stroke-opacity="0.33" stroke-miterlimit="3"/>
<path d="M287.01 153.44L288.61 156.69L287.01 159.94L285.41 156.69Z" fill="none" stroke="#606060" stroke-width="1.15" stroke-opacity="0.46" stroke-miterlimit="3"/>
<path d="M282.34 153.44L283.94 156.69L282.34 159.94L280.74 156.69Z" fill="none" stroke="#606060" stroke-width="1.15" stroke-opacity="0.33" stroke-miterlimit="3"/>
<path d="M301.62 156.94L303.22 160.19L301.62 163.44L300.02 160.19Z" fill="none" stroke="#606060" stroke-width="1.15" stroke-opacity="0.33" stroke-miterlimit="3"/>
<path d="M303.38 159.28L304.98 162.53L303.38 165.78L301.78 162.53Z" fill="none" stroke="#606060" stroke-width="1.15" stroke-opacity="0.33" stroke-miterlimit="3"/>
<path d="M301.62 161.03L303.22 164.28L301.62 167.53L300.02 164.28Z" fill="none" stroke="#606060" stroke-width="1.15" stroke-opacity="0.33" stroke-miterlimit="3"/>
<path d="M297.53 165.71L299.13 168.96L297.53 172.21L295.93 168.96Z" fill="none" stroke="#606060" stroke-width="1.15" stroke-opacity="0.33" stroke-miterlimit="3"/>
<path d="M303.96 164.54L305.56 167.79L303.96 171.04L302.36 167.79Z" fill="none" stroke="#606060" stroke-width="1.15" stroke-opacity="0.33" stroke-miterlimit="3"/>
<path d="M301.04 169.22L302.64 172.47L301.04 175.72L299.44 172.47Z" fill="none" stroke="#606060" stroke-width="1.15" stroke-opacity="0.33" stroke-miterlimit="3"/>
<path d="M294.61 170.38L296.21 173.63L294.61 176.88L293.01 173.63Z" fill="none" stroke="#606060" stroke-width="1.15" stroke-opacity="0.33" stroke-miterlimit="3"/>
<path d="M318.57 165.71L320.17 168.96L318.57 172.21L316.97 168.96Z" fill="none" stroke="#606060" stroke-width="1.15" stroke-opacity="0.33" stroke-miterlimit="3"/>
<path d="M317.17 173.89L318.77 177.14L317.17 180.39L315.57 177.14Z" fill="none" stroke="#606060" stroke-width="1.15" stroke-opacity="0.33" stroke-miterlimit="3"/>
<path d="M344.87 173.31L346.47 176.56L344.87 179.81L343.27 176.56Z" fill="none" stroke="#606060" stroke-width="1.15" stroke-opacity="0.33" stroke-miterlimit="3"/>
<path d="M305.71 208.31L307.31 211.56L305.71 214.81L304.11 211.56Z" fill="none" stroke="#606060" stroke-width="1.15" stroke-opacity="0.33" stroke-miterlimit="3"/>
<path d="M316.23 180.84L317.83 184.09L316.23 187.34L314.63 184.09Z" fill="none" stroke="#606060" stroke-width="1.15" stroke-opacity="0.33" stroke-miterlimit="3"/>
<path d="M322.08 178.5L323.68 181.75L322.08 185L320.48 181.75Z" fill="none" stroke="#606060" stroke-width="1.15" stroke-opacity="0.33" stroke-miterlimit="3"/>
<path d="M324.18 185.52L325.78 188.77L324.18 192.02L322.58 188.77Z" fill="none" stroke="#606060" stroke-width="1.15" stroke-opacity="0.33" stroke-miterlimit="3"/>
<path d="M323.83 188.44L325.43 191.69L323.83 194.94L322.23 191.69Z" fill="none" stroke="#606060" stroke-width="1.15" stroke-opacity="0.33" stroke-miterlimit="3"/>
<path d="M308.05 189.02L309.65 192.27L308.05 195.52L306.45 192.27Z" fill="none" stroke="#606060" stroke-width="1.15" stroke-opacity="0.33" stroke-miterlimit="3"/>
<path d="M311.79 194.28L313.39 197.53L311.79 200.78L310.19 197.53Z" fill="none" stroke="#606060" stroke-width="1.15" stroke-opacity="0.33" stroke-miterlimit="3"/>
<path d="M317.63 194.28L319.23 197.53L317.63 200.78L316.03 197.53Z" fill="none" stroke="#606060" stroke-width="1.15" stroke-opacity="0.33" stroke-miterlimit="3"/>
<path d="M320.91 196.03L322.51 199.28L320.91 202.53L319.31 199.28Z" fill="none" stroke="#606060" stroke-width="1.15" stroke-opacity="0.33" stroke-miterlimit="3"/>
<path d="M330.26 195.45L331.86 198.7L330.26 201.95L328.66 198.7Z" fill="none" stroke="#606060" stroke-width="1.15" stroke-opacity="0.33" stroke-miterlimit="3"/>
<path d="M333.18 177.92L334.78 181.17L333.18 184.42L331.58 181.17Z" fill="none" stroke="#606060" stroke-width="1.15" stroke-opacity="0.33" stroke-miterlimit="3"/>
<path d="M338.44 203.63L340.04 206.88L338.44 210.13L336.84 206.88Z" fill="none" stroke="#606060" stroke-width="1.15" stroke-opacity="0.33" stroke-miterlimit="3"/>
<path d="M341.94 199.54L343.54 202.79L341.94 206.04L340.34 202.79Z" fill="none" stroke="#606060" stroke-width="1.15" stroke-opacity="0.33" stroke-miterlimit="3"/>
<path d="M344.87 200.71L346.47 203.96L344.87 207.21L343.27 203.96Z" fill="none" stroke="#606060" stroke-width="1.15" stroke-opacity="0.33" stroke-miterlimit="3"/>
<path d="M346.04 197.2L347.64 200.45L346.04 203.7L344.44 200.45Z" fill="none" stroke="#606060" stroke-width="1.15" stroke-opacity="0.33" stroke-miterlimit="3"/>
<path d="M297.53 183.76L299.13 187.01L297.53 190.26L295.93 187.01Z" fill="none" stroke="#606060" stroke-width="1.15" stroke-opacity="0.46" stroke-miterlimit="3"/>
<path d="M295.19 180.26L296.79 183.51L295.19 186.76L293.59 183.51Z" fill="none" stroke="#606060" stroke-width="1.15" stroke-opacity="0.33" stroke-miterlimit="3"/>
<rect x="95.19" y="161.15" width="5.3" height="5.3" fill="none" stroke="#808080" stroke-width="1.2" stroke-opacity="0.62"/>
<rect x="142.87" y="145.34" width="5.3" height="5.3" fill="none" stroke="#808080" stroke-width="1.2" stroke-opacity="0.62"/>
<rect x="141.33" y="162.38" width="5.3" height="5.3" fill="none" stroke="#808080" stroke-width="1.2" stroke-opacity="0.62"/>
<rect x="136.38" y="160.58" width="5.3" height="5.3" fill="none" stroke="#808080" stroke-width="1.2" stroke-opacity="0.62"/>
<rect x="135.97" y="165.29" width="5.3" height="5.3" fill="none" stroke="#808080" stroke-width="1.2" stroke-opacity="0.62"/>
<rect x="106.91" y="168.54" width="5.3" height="5.3" fill="none" stroke="#808080" stroke-width="1.2" stroke-opacity="0.62"/>
<rect x="111.26" y="167.07" width="5.3" height="5.3" fill="none" stroke="#808080" stroke-width="1.2" stroke-opacity="0.62"/>
<rect x="112.22" y="170.89" width="5.3" height="5.3" fill="none" stroke="#808080" stroke-width="1.2" stroke-opacity="0.62"/>
<rect x="121.23" y="166.34" width="5.3" height="5.3" fill="none" stroke="#808080" stroke-width="1.2" stroke-opacity="0.62"/>
<rect x="121.23" y="171.7" width="5.3" height="5.3" fill="none" stroke="#808080" stroke-width="1.2" stroke-opacity="0.62"/>
<rect x="107.45" y="176.6" width="5.3" height="5.3" fill="none" stroke="#808080" stroke-width="1.2" stroke-opacity="0.62"/>
<rect x="150.21" y="147.19" width="5.3" height="5.3" fill="none" stroke="#808080" stroke-width="1.2" stroke-opacity="0.62"/>
<rect x="150.21" y="164.4" width="5.3" height="5.3" fill="none" stroke="#808080" stroke-width="1.2" stroke-opacity="0.62"/>
<rect x="121.25" y="177.16" width="5.3" height="5.3" fill="none" stroke="#808080" stroke-width="1.2" stroke-opacity="0.62"/>
<rect x="135.14" y="172.22" width="5.3" height="5.3" fill="none" stroke="#808080" stroke-width="1.2" stroke-opacity="0.62"/>
<rect x="128.26" y="176.12" width="5.3" height="5.3" fill="none" stroke="#808080" stroke-width="1.2" stroke-opacity="0.62"/>
<rect x="152.76" y="177.02" width="5.3" height="5.3" fill="none" stroke="#808080" stroke-width="1.2" stroke-opacity="0.62"/>
<rect x="90.34" y="198.39" width="5.3" height="5.3" fill="none" stroke="#808080" stroke-width="1.2" stroke-opacity="0.62"/>
<rect x="116.25" y="206.34" width="5.3" height="5.3" fill="none" stroke="#808080" stroke-width="1.2" stroke-opacity="0.62"/>
<rect x="126.05" y="185.4" width="5.3" height="5.3" fill="none" stroke="#808080" stroke-width="1.2" stroke-opacity="0.62"/>
<rect x="127.35" y="179.95" width="5.3" height="5.3" fill="none" stroke="#808080" stroke-width="1.2" stroke-opacity="0.62"/>
<rect x="134.49" y="185.14" width="5.3" height="5.3" fill="none" stroke="#808080" stroke-width="1.2" stroke-opacity="0.62"/>
<rect x="140.95" y="185.15" width="5.3" height="5.3" fill="none" stroke="#808080" stroke-width="1.2" stroke-opacity="0.62"/>
<rect x="138.05" y="190.33" width="5.3" height="5.3" fill="none" stroke="#808080" stroke-width="1.2" stroke-opacity="0.62"/>
<rect x="136.44" y="196.83" width="5.3" height="5.3" fill="none" stroke="#808080" stroke-width="1.2" stroke-opacity="0.62"/>
<rect x="139.89" y="200.16" width="5.3" height="5.3" fill="none" stroke="#808080" stroke-width="1.2" stroke-opacity="0.62"/>
<rect x="144.63" y="191.27" width="5.3" height="5.3" fill="none" stroke="#808080" stroke-width="1.2" stroke-opacity="0.62"/>
<rect x="148.95" y="192.45" width="5.3" height="5.3" fill="none" stroke="#808080" stroke-width="1.2" stroke-opacity="0.8"/>
<rect x="148.13" y="197.48" width="5.3" height="5.3" fill="none" stroke="#808080" stroke-width="1.2" stroke-opacity="0.62"/>
<rect x="150.34" y="199.87" width="5.3" height="5.3" fill="none" stroke="#808080" stroke-width="1.2" stroke-opacity="0.8"/>
<rect x="150.29" y="204.22" width="5.3" height="5.3" fill="none" stroke="#808080" stroke-width="1.2" stroke-opacity="0.62"/>
<rect x="150.91" y="208.28" width="5.3" height="5.3" fill="none" stroke="#808080" stroke-width="1.2" stroke-opacity="0.62"/>
<rect x="153.26" y="217.45" width="5.3" height="5.3" fill="none" stroke="#808080" stroke-width="1.2" stroke-opacity="0.62"/>
<rect x="131.25" y="181.25" width="5.3" height="5.3" fill="none" stroke="#808080" stroke-width="1.2" stroke-opacity="0.62"/>
<rect x="155.27" y="194.23" width="5.3" height="5.3" fill="none" stroke="#808080" stroke-width="1.2" stroke-opacity="0.62"/>
<rect x="155.61" y="187.1" width="5.3" height="5.3" fill="none" stroke="#808080" stroke-width="1.2" stroke-opacity="0.62"/>
<rect x="144.88" y="178.65" width="5.3" height="5.3" fill="none" stroke="#808080" stroke-width="1.2" stroke-opacity="0.62"/>
<rect x="176.26" y="170.25" width="5.3" height="5.3" fill="none" stroke="#808080" stroke-width="1.2" stroke-opacity="0.62"/>
<rect x="177.5" y="176.04" width="5.3" height="5.3" fill="none" stroke="#808080" stroke-width="1.2" stroke-opacity="0.62"/>
<rect x="172.53" y="177.28" width="5.3" height="5.3" fill="none" stroke="#808080" stroke-width="1.2" stroke-opacity="0.62"/>
<rect x="174.6" y="186.9" width="5.3" height="5.3" fill="none" stroke="#808080" stroke-width="1.2" stroke-opacity="0.62"/>
<rect x="170.46" y="188.56" width="5.3" height="5.3" fill="none" stroke="#808080" stroke-width="1.2" stroke-opacity="0.8"/>
<rect x="166.53" y="187.73" width="5.3" height="5.3" fill="none" stroke="#808080" stroke-width="1.2" stroke-opacity="0.62"/>
<rect x="157.22" y="172.73" width="5.3" height="5.3" fill="none" stroke="#808080" stroke-width="1.2" stroke-opacity="0.62"/>
<rect x="159.7" y="168.18" width="5.3" height="5.3" fill="none" stroke="#808080" stroke-width="1.2" stroke-opacity="0.62"/>
<rect x="165.5" y="174.8" width="5.3" height="5.3" fill="none" stroke="#808080" stroke-width="1.2" stroke-opacity="0.62"/>
<rect x="156.33" y="179.06" width="5.3" height="5.3" fill="none" stroke="#808080" stroke-width="1.2" stroke-opacity="1.0"/>
<rect x="155.98" y="178.53" width="5.3" height="5.3" fill="none" stroke="#808080" stroke-width="1.2" stroke-opacity="0.62"/>
<rect x="158.61" y="182.39" width="5.3" height="5.3" fill="none" stroke="#808080" stroke-width="1.2" stroke-opacity="0.8"/>
<rect x="150.6" y="175.63" width="5.3" height="5.3" fill="none" stroke="#808080" stroke-width="1.2" stroke-opacity="0.62"/>
<rect x="142.73" y="179.77" width="5.3" height="5.3" fill="none" stroke="#808080" stroke-width="1.2" stroke-opacity="0.62"/>
<rect x="160.94" y="183.91" width="5.3" height="5.3" fill="none" stroke="#808080" stroke-width="1.2" stroke-opacity="0.62"/>
<rect x="151.42" y="190.53" width="5.3" height="5.3" fill="none" stroke="#808080" stroke-width="1.2" stroke-opacity="0.62"/>
<rect x="157.42" y="191.66" width="5.3" height="5.3" fill="none" stroke="#808080" stroke-width="1.2" stroke-opacity="0.62"/>
<rect x="138.59" y="172.32" width="5.3" height="5.3" fill="none" stroke="#808080" stroke-width="1.2" stroke-opacity="0.62"/>
<rect x="149.77" y="195.28" width="5.3" height="5.3" fill="none" stroke="#808080" stroke-width="1.2" stroke-opacity="0.62"/>
<rect x="157.15" y="209.34" width="5.3" height="5.3" fill="none" stroke="#808080" stroke-width="1.2" stroke-opacity="0.62"/>
<rect x="163.84" y="195.28" width="5.3" height="5.3" fill="none" stroke="#808080" stroke-width="1.2" stroke-opacity="0.62"/>
<rect x="163.26" y="201.51" width="5.3" height="5.3" fill="none" stroke="#808080" stroke-width="1.2" stroke-opacity="0.62"/>
<rect x="153.91" y="197.77" width="5.3" height="5.3" fill="none" stroke="#808080" stroke-width="1.2" stroke-opacity="0.62"/>
<rect x="168.52" y="119.36" width="5.3" height="5.3" fill="none" stroke="#808080" stroke-width="1.2" stroke-opacity="0.62"/>
<rect x="179.56" y="130.63" width="5.3" height="5.3" fill="none" stroke="#808080" stroke-width="1.2" stroke-opacity="0.62"/>
<rect x="187.87" y="132.06" width="5.3" height="5.3" fill="none" stroke="#808080" stroke-width="1.2" stroke-opacity="0.62"/>
<rect x="155.53" y="138.39" width="5.3" height="5.3" fill="none" stroke="#808080" stroke-width="1.2" stroke-opacity="0.62"/>
<rect x="163.06" y="139.04" width="5.3" height="5.3" fill="none" stroke="#808080" stroke-width="1.2" stroke-opacity="0.62"/>
<rect x="170.47" y="139.69" width="5.3" height="5.3" fill="none" stroke="#808080" stroke-width="1.2" stroke-opacity="0.62"/>
<rect x="176.96" y="133.84" width="5.3" height="5.3" fill="none" stroke="#808080" stroke-width="1.2" stroke-opacity="0.62"/>
<rect x="160.73" y="146.18" width="5.3" height="5.3" fill="none" stroke="#808080" stroke-width="1.2" stroke-opacity="1.0"/>
<rect x="154.23" y="152.67" width="5.3" height="5.3" fill="none" stroke="#808080" stroke-width="1.2" stroke-opacity="0.62"/>
<rect x="142.54" y="152.03" width="5.3" height="5.3" fill="none" stroke="#808080" stroke-width="1.2" stroke-opacity="0.62"/>
<rect x="173.06" y="152.03" width="5.3" height="5.3" fill="none" stroke="#808080" stroke-width="1.2" stroke-opacity="0.62"/>
<rect x="156.83" y="158.52" width="5.3" height="5.3" fill="none" stroke="#808080" stroke-width="1.2" stroke-opacity="0.62"/>
<rect x="158.13" y="160.47" width="5.3" height="5.3" fill="none" stroke="#808080" stroke-width="1.2" stroke-opacity="0.62"/>
<rect x="166.57" y="161.38" width="5.3" height="5.3" fill="none" stroke="#808080" stroke-width="1.2" stroke-opacity="0.62"/>
<rect x="168.52" y="164.36" width="5.3" height="5.3" fill="none" stroke="#808080" stroke-width="1.2" stroke-opacity="0.62"/>
<rect x="186.7" y="157.22" width="5.3" height="5.3" fill="none" stroke="#808080" stroke-width="1.2" stroke-opacity="0.62"/>
<rect x="181.51" y="162.41" width="5.3" height="5.3" fill="none" stroke="#808080" stroke-width="1.2" stroke-opacity="0.62"/>
<rect x="160.35" y="177.85" width="5.3" height="5.3" fill="none" stroke="#808080" stroke-width="1.2" stroke-opacity="0.62"/>
<circle cx="137.73" cy="156.87" r="2.8" fill="#1f77b4" fill-opacity="0.75"/>
<circle cx="130.86" cy="163.99" r="2.8" fill="#1f77b4" fill-opacity="0.75"/>
<circle cx="148.71" cy="157.49" r="2.8" fill="#1f77b4" fill-opacity="0.75"/>
<circle cx="131.67" cy="174.19" r="2.8" fill="#1f77b4" fill-opacity="0.75"/>
<circle cx="149.03" cy="183.6" r="2.8" fill="#1f77b4" fill-opacity="0.75"/>
<circle cx="106.36" cy="186.75" r="2.8" fill="#1f77b4" fill-opacity="0.75"/>
<circle cx="197.95" cy="175.79" r="2.8" fill="#1f77b4" fill-opacity="0.75"/>
<circle cx="263.96" cy="103.12" r="2.8" fill="#1f77b4" fill-opacity="0.75"/>
<circle cx="273.37" cy="127.94" r="2.8" fill="#1f77b4" fill-opacity="0.75"/>
<circle cx="305.68" cy="124.68" r="2.8" fill="#1f77b4" fill-opacity="0.75"/>
<circle cx="292.53" cy="140.91" r="2.8" fill="#1f77b4" fill-opacity="0.75"/>
<circle cx="326.69" cy="147.91" r="2.8" fill="#1f77b4" fill-opacity="0.75"/>
<circle cx="160.78" cy="111.23" r="2.8" fill="#1f77b4" fill-opacity="0.75"/>
<circle cx="157.92" cy="136.49" r="2.8" fill="#1f77b4" fill-opacity="0.75"/>
<circle cx="221.62" cy="140.84" r="2.8" fill="#1f77b4" fill-opacity="0.75"/>
<circle cx="247.21" cy="153.31" r="2.8" fill="#1f77b4" fill-opacity="0.75"/>
<circle cx="256.75" cy="166.49" r="2.8" fill="#1f77b4" fill-opacity="0.75"/>
<circle cx="223.25" cy="193.12" r="2.8" fill="#1f77b4" fill-opacity="0.75"/>
<circle cx="307.7" cy="168.96" r="2.8" fill="#1f77b4" fill-opacity="0.75"/>
<circle cx="302.79" cy="184.09" r="2.8" fill="#1f77b4" fill-opacity="0.75"/>
<circle cx="287.25" cy="202.44" r="2.8" fill="#1f77b4" fill-opacity="0.75"/>
<circle cx="304.54" cy="207.47" r="2.8" fill="#1f77b4" fill-opacity="0.75"/>
<circle cx="261.5" cy="243.8" r="2.8" fill="#1f77b4" fill-opacity="0.75"/>
<rect x="130.19" y="144.05" width="5.4" height="5.4" fill="none" stroke="#2ca02c" stroke-width="1.2" stroke-opacity="1"/>
<rect x="121.47" y="156.99" width="5.4" height="5.4" fill="none" stroke="#2ca02c" stroke-width="1.2" stroke-opacity="1"/>
<rect x="135.03" y="154.17" width="5.4" height="5.4" fill="none" stroke="#2ca02c" stroke-width="1.2" stroke-opacity="1"/>
<rect x="128.16" y="161.29" width="5.4" height="5.4" fill="none" stroke="#2ca02c" stroke-width="1.2" stroke-opacity="1"/>
<rect x="146.01" y="154.79" width="5.4" height="5.4" fill="none" stroke="#2ca02c" stroke-width="1.2" stroke-opacity="1"/>
<rect x="128.97" y="171.49" width="5.4" height="5.4" fill="none" stroke="#2ca02c" stroke-width="1.2" stroke-opacity="1"/>
<rect x="133.21" y="175.3" width="5.4" height="5.4" fill="none" stroke="#2ca02c" stroke-width="1.2" stroke-opacity="1"/>
<rect x="146.33" y="180.9" width="5.4" height="5.4" fill="none" stroke="#2ca02c" stroke-width="1.2" stroke-opacity="1"/>
<rect x="149.12" y="185.35" width="5.4" height="5.4" fill="none" stroke="#2ca02c" stroke-width="1.2" stroke-opacity="1"/>
<rect x="167.27" y="181.37" width="5.4" height="5.4" fill="none" stroke="#2ca02c" stroke-width="1.2" stroke-opacity="1"/>
<path d="M204.38 41.52L205.98 44.77L204.38 48.02L202.78 44.77Z" fill="none" stroke="#2ca02c" stroke-width="1.15" stroke-opacity="1" stroke-miterlimit="3"/>
<path d="M242.21 41.52L243.81 44.77L242.21 48.02L240.61 44.77Z" fill="none" stroke="#2ca02c" stroke-width="1.15" stroke-opacity="1" stroke-miterlimit="3"/>
<path d="M311.69 36.65L313.29 39.9L311.69 43.15L310.09 39.9Z" fill="none" stroke="#2ca02c" stroke-width="1.15" stroke-opacity="1" stroke-miterlimit="3"/>
<path d="M193.83 71.1L195.43 74.35L193.83 77.6L192.23 74.35Z" fill="none" stroke="#2ca02c" stroke-width="1.15" stroke-opacity="1" stroke-miterlimit="3"/>
<path d="M239.61 54.54L241.21 57.79L239.61 61.04L238.01 57.79Z" fill="none" stroke="#2ca02c" stroke-width="1.15" stroke-opacity="1" stroke-miterlimit="3"/>
<path d="M289.45 85.71L291.05 88.96L289.45 92.21L287.85 88.96Z" fill="none" stroke="#2ca02c" stroke-width="1.15" stroke-opacity="1" stroke-miterlimit="3"/>
<path d="M261.33 95.97L262.93 99.22L261.33 102.47L259.73 99.22Z" fill="none" stroke="#2ca02c" stroke-width="1.15" stroke-opacity="1" stroke-miterlimit="3"/>
<path d="M256.06 102.55L257.66 105.8L256.06 109.05L254.46 105.8Z" fill="none" stroke="#2ca02c" stroke-width="1.15" stroke-opacity="1" stroke-miterlimit="3"/>
<path d="M273.43 104.98L275.03 108.23L273.43 111.48L271.83 108.23Z" fill="none" stroke="#2ca02c" stroke-width="1.15" stroke-opacity="1" stroke-miterlimit="3"/>
<path d="M266.36 107.09L267.96 110.34L266.36 113.59L264.76 110.34Z" fill="none" stroke="#2ca02c" stroke-width="1.15" stroke-opacity="1" stroke-miterlimit="3"/>
<path d="M298.21 106.17L299.81 109.42L298.21 112.67L296.61 109.42Z" fill="none" stroke="#2ca02c" stroke-width="1.15" stroke-opacity="1" stroke-miterlimit="3"/>
<path d="M263.76 122.26L265.36 125.51L263.76 128.76L262.16 125.51Z" fill="none" stroke="#2ca02c" stroke-width="1.15" stroke-opacity="1" stroke-miterlimit="3"/>
<path d="M273.37 124.69L274.97 127.94L273.37 131.19L271.77 127.94Z" fill="none" stroke="#2ca02c" stroke-width="1.15" stroke-opacity="1" stroke-miterlimit="3"/>
<path d="M305.68 121.43L307.28 124.68L305.68 127.93L304.08 124.68Z" fill="none" stroke="#2ca02c" stroke-width="1.15" stroke-opacity="1" stroke-miterlimit="3"/>
<path d="M288.64 130.03L290.24 133.28L288.64 136.53L287.04 133.28Z" fill="none" stroke="#2ca02c" stroke-width="1.15" stroke-opacity="1" stroke-miterlimit="3"/>
<path d="M292.53 137.66L294.13 140.91L292.53 144.16L290.93 140.91Z" fill="none" stroke="#2ca02c" stroke-width="1.15" stroke-opacity="1" stroke-miterlimit="3"/>
<path d="M325.81 141.39L327.41 144.64L325.81 147.89L324.21 144.64Z" fill="none" stroke="#2ca02c" stroke-width="1.15" stroke-opacity="1" stroke-miterlimit="3"/>
<path d="M213.38 104.19L214.98 107.44L213.38 110.69L211.78 107.44Z" fill="none" stroke="#2ca02c" stroke-width="1.15" stroke-opacity="1" stroke-miterlimit="3"/>
<path d="M229.61 100.39L231.21 103.64L229.61 106.89L228.01 103.64Z" fill="none" stroke="#2ca02c" stroke-width="1.15" stroke-opacity="1" stroke-miterlimit="3"/>
<path d="M197.08 130.52L198.68 133.77L197.08 137.02L195.48 133.77Z" fill="none" stroke="#2ca02c" stroke-width="1.15" stroke-opacity="1" stroke-miterlimit="3"/>
<path d="M157.92 133.24L159.52 136.49L157.92 139.74L156.32 136.49Z" fill="none" stroke="#2ca02c" stroke-width="1.15" stroke-opacity="1" stroke-miterlimit="3"/>
<path d="M221.62 137.59L223.22 140.84L221.62 144.09L220.02 140.84Z" fill="none" stroke="#2ca02c" stroke-width="1.15" stroke-opacity="1" stroke-miterlimit="3"/>
<path d="M247.21 150.06L248.81 153.31L247.21 156.56L245.61 153.31Z" fill="none" stroke="#2ca02c" stroke-width="1.15" stroke-opacity="1" stroke-miterlimit="3"/>
<path d="M256.75 163.24L258.35 166.49L256.75 169.74L255.15 166.49Z" fill="none" stroke="#2ca02c" stroke-width="1.15" stroke-opacity="1" stroke-miterlimit="3"/>
<path d="M246.62 172.07L248.22 175.32L246.62 178.57L245.02 175.32Z" fill="none" stroke="#2ca02c" stroke-width="1.15" stroke-opacity="1" stroke-miterlimit="3"/>
<path d="M266.1 189.22L267.7 192.47L266.1 195.72L264.5 192.47Z" fill="none" stroke="#2ca02c" stroke-width="1.15" stroke-opacity="1" stroke-miterlimit="3"/>
<path d="M285.91 173.76L287.51 177.01L285.91 180.26L284.31 177.01Z" fill="none" stroke="#2ca02c" stroke-width="1.15" stroke-opacity="1" stroke-miterlimit="3"/>
<path d="M285.42 178.34L287.02 181.59L285.42 184.84L283.82 181.59Z" fill="none" stroke="#2ca02c" stroke-width="1.15" stroke-opacity="1" stroke-miterlimit="3"/>
<path d="M299.26 177.64L300.86 180.89L299.26 184.14L297.66 180.89Z" fill="none" stroke="#2ca02c" stroke-width="1.15" stroke-opacity="1" stroke-miterlimit="3"/>
<path d="M326.75 144.67L328.35 147.92L326.75 151.17L325.15 147.92Z" fill="none" stroke="#2ca02c" stroke-width="1.15" stroke-opacity="1" stroke-miterlimit="3"/>
<path d="M327.92 151.1L329.52 154.35L327.92 157.6L326.32 154.35Z" fill="none" stroke="#2ca02c" stroke-width="1.15" stroke-opacity="1" stroke-miterlimit="3"/>
<path d="M330.02 152.27L331.62 155.52L330.02 158.77L328.42 155.52Z" fill="none" stroke="#2ca02c" stroke-width="1.15" stroke-opacity="1" stroke-miterlimit="3"/>
<path d="M307.7 165.71L309.3 168.96L307.7 172.21L306.1 168.96Z" fill="none" stroke="#2ca02c" stroke-width="1.15" stroke-opacity="1" stroke-miterlimit="3"/>
<path d="M321.84 165.13L323.44 168.38L321.84 171.63L320.24 168.38Z" fill="none" stroke="#2ca02c" stroke-width="1.15" stroke-opacity="1" stroke-miterlimit="3"/>
<path d="M320.91 169.8L322.51 173.05L320.91 176.3L319.31 173.05Z" fill="none" stroke="#2ca02c" stroke-width="1.15" stroke-opacity="1" stroke-miterlimit="3"/>
<path d="M320.67 186.68L322.27 189.93L320.67 193.18L319.07 189.93Z" fill="none" stroke="#2ca02c" stroke-width="1.15" stroke-opacity="1" stroke-miterlimit="3"/>
<path d="M287.45 88.96L291.25 86.96L291.25 90.96Z" fill="#d62728"/>
<path d="M261.72 103.12L265.52 101.12L265.52 105.12Z" fill="#d62728"/>
<path d="M268.94 106.01L272.74 104.01L272.74 108.01Z" fill="#d62728"/>
<path d="M271.3 107.42L275.1 105.42L275.1 109.42Z" fill="#d62728"/>
</g>
<rect x="52.6" y="6.9" width="297" height="246.9" fill="none" stroke="#000" stroke-width="1.3"/>
<path d="M72.4 253.8v-3.9M72.4 6.9v3.9M112 253.8v-3.9M112 6.9v3.9M151.6 253.8v-3.9M151.6 6.9v3.9M191.2 253.8v-3.9M191.2 6.9v3.9M230.8 253.8v-3.9M230.8 6.9v3.9M270.4 253.8v-3.9M270.4 6.9v3.9M310 253.8v-3.9M310 6.9v3.9M349.6 253.8v-3.9M349.6 6.9v3.9M56.56 253.8v-2.3M56.56 6.9v2.3M64.48 253.8v-2.3M64.48 6.9v2.3M80.32 253.8v-2.3M80.32 6.9v2.3M88.24 253.8v-2.3M88.24 6.9v2.3M96.16 253.8v-2.3M96.16 6.9v2.3M104.08 253.8v-2.3M104.08 6.9v2.3M119.92 253.8v-2.3M119.92 6.9v2.3M127.84 253.8v-2.3M127.84 6.9v2.3M135.76 253.8v-2.3M135.76 6.9v2.3M143.68 253.8v-2.3M143.68 6.9v2.3M159.52 253.8v-2.3M159.52 6.9v2.3M167.44 253.8v-2.3M167.44 6.9v2.3M175.36 253.8v-2.3M175.36 6.9v2.3M183.28 253.8v-2.3M183.28 6.9v2.3M199.12 253.8v-2.3M199.12 6.9v2.3M207.04 253.8v-2.3M207.04 6.9v2.3M214.96 253.8v-2.3M214.96 6.9v2.3M222.88 253.8v-2.3M222.88 6.9v2.3M238.72 253.8v-2.3M238.72 6.9v2.3M246.64 253.8v-2.3M246.64 6.9v2.3M254.56 253.8v-2.3M254.56 6.9v2.3M262.48 253.8v-2.3M262.48 6.9v2.3M278.32 253.8v-2.3M278.32 6.9v2.3M286.24 253.8v-2.3M286.24 6.9v2.3M294.16 253.8v-2.3M294.16 6.9v2.3M302.08 253.8v-2.3M302.08 6.9v2.3M317.92 253.8v-2.3M317.92 6.9v2.3M325.84 253.8v-2.3M325.84 6.9v2.3M333.76 253.8v-2.3M333.76 6.9v2.3M341.68 253.8v-2.3M341.68 6.9v2.3M52.6 25.3h3.9M349.6 25.3h-3.9M52.6 61.9h3.9M349.6 61.9h-3.9M52.6 98.5h3.9M349.6 98.5h-3.9M52.6 135.1h3.9M349.6 135.1h-3.9M52.6 171.7h3.9M349.6 171.7h-3.9M52.6 208.3h3.9M349.6 208.3h-3.9M52.6 244.9h3.9M349.6 244.9h-3.9M52.6 10.66h2.3M349.6 10.66h-2.3M52.6 17.98h2.3M349.6 17.98h-2.3M52.6 32.62h2.3M349.6 32.62h-2.3M52.6 39.94h2.3M349.6 39.94h-2.3M52.6 47.26h2.3M349.6 47.26h-2.3M52.6 54.58h2.3M349.6 54.58h-2.3M52.6 69.22h2.3M349.6 69.22h-2.3M52.6 76.54h2.3M349.6 76.54h-2.3M52.6 83.86h2.3M349.6 83.86h-2.3M52.6 91.18h2.3M349.6 91.18h-2.3M52.6 105.82h2.3M349.6 105.82h-2.3M52.6 113.14h2.3M349.6 113.14h-2.3M52.6 120.46h2.3M349.6 120.46h-2.3M52.6 127.78h2.3M349.6 127.78h-2.3M52.6 142.42h2.3M349.6 142.42h-2.3M52.6 149.74h2.3M349.6 149.74h-2.3M52.6 157.06h2.3M349.6 157.06h-2.3M52.6 164.38h2.3M349.6 164.38h-2.3M52.6 179.02h2.3M349.6 179.02h-2.3M52.6 186.34h2.3M349.6 186.34h-2.3M52.6 193.66h2.3M349.6 193.66h-2.3M52.6 200.98h2.3M349.6 200.98h-2.3M52.6 215.62h2.3M349.6 215.62h-2.3M52.6 222.94h2.3M349.6 222.94h-2.3M52.6 230.26h2.3M349.6 230.26h-2.3M52.6 237.58h2.3M349.6 237.58h-2.3M52.6 252.22h2.3M349.6 252.22h-2.3" stroke="#000" stroke-width="1.1" fill="none"/>
<text x="72.4" y="267.1" font-size="12.9" text-anchor="middle" fill="#000" stroke="#000" stroke-width="0.22" textLength="15.52" lengthAdjust="spacingAndGlyphs">60</text>
<text x="112" y="267.1" font-size="12.9" text-anchor="middle" fill="#000" stroke="#000" stroke-width="0.22" textLength="15.52" lengthAdjust="spacingAndGlyphs">80</text>
<text x="151.6" y="267.1" font-size="12.9" text-anchor="middle" fill="#000" stroke="#000" stroke-width="0.22" textLength="23.29" lengthAdjust="spacingAndGlyphs">100</text>
<text x="191.2" y="267.1" font-size="12.9" text-anchor="middle" fill="#000" stroke="#000" stroke-width="0.22" textLength="23.29" lengthAdjust="spacingAndGlyphs">120</text>
<text x="230.8" y="267.1" font-size="12.9" text-anchor="middle" fill="#000" stroke="#000" stroke-width="0.22" textLength="23.29" lengthAdjust="spacingAndGlyphs">140</text>
<text x="270.4" y="267.1" font-size="12.9" text-anchor="middle" fill="#000" stroke="#000" stroke-width="0.22" textLength="23.29" lengthAdjust="spacingAndGlyphs">160</text>
<text x="310" y="267.1" font-size="12.9" text-anchor="middle" fill="#000" stroke="#000" stroke-width="0.22" textLength="23.29" lengthAdjust="spacingAndGlyphs">180</text>
<text x="349.6" y="267.1" font-size="12.9" text-anchor="middle" fill="#000" stroke="#000" stroke-width="0.22" textLength="23.29" lengthAdjust="spacingAndGlyphs">200</text>
<text x="46.6" y="29.8" font-size="12.9" text-anchor="end" fill="#000" stroke="#000" stroke-width="0.22" textLength="19.93" lengthAdjust="spacingAndGlyphs">-40</text>
<text x="46.6" y="66.4" font-size="12.9" text-anchor="end" fill="#000" stroke="#000" stroke-width="0.22" textLength="19.93" lengthAdjust="spacingAndGlyphs">-20</text>
<text x="46.6" y="103" font-size="12.9" text-anchor="end" fill="#000" stroke="#000" stroke-width="0.22" textLength="7.76" lengthAdjust="spacingAndGlyphs">0</text>
<text x="46.6" y="139.6" font-size="12.9" text-anchor="end" fill="#000" stroke="#000" stroke-width="0.22" textLength="15.52" lengthAdjust="spacingAndGlyphs">20</text>
<text x="46.6" y="176.2" font-size="12.9" text-anchor="end" fill="#000" stroke="#000" stroke-width="0.22" textLength="15.52" lengthAdjust="spacingAndGlyphs">40</text>
<text x="46.6" y="212.8" font-size="12.9" text-anchor="end" fill="#000" stroke="#000" stroke-width="0.22" textLength="15.52" lengthAdjust="spacingAndGlyphs">60</text>
<text x="46.6" y="249.4" font-size="12.9" text-anchor="end" fill="#000" stroke="#000" stroke-width="0.22" textLength="15.52" lengthAdjust="spacingAndGlyphs">80</text>
<text x="201" y="280" font-size="12.9" text-anchor="middle" fill="#000" stroke="#000" stroke-width="0.22" textLength="35.3" lengthAdjust="spacingAndGlyphs">Y (pc)</text>
<text transform="translate(17.9 130.5) rotate(-90)" font-size="12.9" stroke="#000" stroke-width="0.22" text-anchor="middle" textLength="36.21" lengthAdjust="spacingAndGlyphs">X (pc)</text>
<text x="88.6" y="246.2" font-size="11.4" text-anchor="start" fill="#888" stroke="#888" stroke-width="0.15" textLength="36.67" lengthAdjust="spacingAndGlyphs">100 pc</text>
<text x="274.6" y="246.2" font-size="11.4" text-anchor="start" fill="#888" stroke="#888" stroke-width="0.15" textLength="36.67" lengthAdjust="spacingAndGlyphs">200 pc</text>
<g clip-path="url(#cr)">
<ellipse cx="565.62" cy="130.47" rx="63.79" ry="52.83" fill="none" stroke="#444" stroke-width="1.15" stroke-dasharray="4.6 4.4" stroke-dashoffset="5.91" stroke-opacity="0.9"/>
<path d="M697.8 54.55L699.4 57.8L697.8 61.05L696.2 57.8Z" fill="none" stroke="#606060" stroke-width="1.15" stroke-opacity="0.4" stroke-miterlimit="3"/>
<path d="M626.7 77.25L628.3 80.5L626.7 83.75L625.1 80.5Z" fill="none" stroke="#606060" stroke-width="1.15" stroke-opacity="0.4" stroke-miterlimit="3"/>
<path d="M463.49 94.74L465.09 97.99L463.49 101.24L461.89 97.99Z" fill="none" stroke="#606060" stroke-width="1.15" stroke-opacity="0.64" stroke-miterlimit="3"/>
<path d="M447.91 100.58L449.51 103.83L447.91 107.08L446.31 103.83Z" fill="none" stroke="#606060" stroke-width="1.15" stroke-opacity="0.64" stroke-miterlimit="3"/>
<path d="M436.09 105.78L437.69 109.03L436.09 112.28L434.49 109.03Z" fill="none" stroke="#606060" stroke-width="1.15" stroke-opacity="0.64" stroke-miterlimit="3"/>
<path d="M447.52 108.37L449.12 111.62L447.52 114.87L445.92 111.62Z" fill="none" stroke="#606060" stroke-width="1.15" stroke-opacity="0.4" stroke-miterlimit="3"/>
<path d="M453.1 106.43L454.7 109.68L453.1 112.93L451.5 109.68Z" fill="none" stroke="#606060" stroke-width="1.15" stroke-opacity="0.64" stroke-miterlimit="3"/>
<path d="M454.92 112.92L456.52 116.17L454.92 119.42L453.32 116.17Z" fill="none" stroke="#606060" stroke-width="1.15" stroke-opacity="0.4" stroke-miterlimit="3"/>
<path d="M452.32 115.78L453.92 119.03L452.32 122.28L450.72 119.03Z" fill="none" stroke="#606060" stroke-width="1.15" stroke-opacity="0.64" stroke-miterlimit="3"/>
<path d="M469.99 112.66L471.59 115.91L469.99 119.16L468.39 115.91Z" fill="none" stroke="#606060" stroke-width="1.15" stroke-opacity="0.64" stroke-miterlimit="3"/>
<path d="M474.4 114.87L476 118.12L474.4 121.37L472.8 118.12Z" fill="none" stroke="#606060" stroke-width="1.15" stroke-opacity="0.4" stroke-miterlimit="3"/>
<path d="M430.9 119.67L432.5 122.92L430.9 126.17L429.3 122.92Z" fill="none" stroke="#606060" stroke-width="1.15" stroke-opacity="0.64" stroke-miterlimit="3"/>
<path d="M444.92 120.71L446.52 123.96L444.92 127.21L443.32 123.96Z" fill="none" stroke="#606060" stroke-width="1.15" stroke-opacity="0.4" stroke-miterlimit="3"/>
<path d="M452.06 120.71L453.66 123.96L452.06 127.21L450.46 123.96Z" fill="none" stroke="#606060" stroke-width="1.15" stroke-opacity="0.4" stroke-miterlimit="3"/>
<path d="M531.03 82.4L532.63 85.65L531.03 88.9L529.43 85.65Z" fill="none" stroke="#606060" stroke-width="1.15" stroke-opacity="0.4" stroke-miterlimit="3"/>
<path d="M564.48 147.68L566.08 150.93L564.48 154.18L562.88 150.93Z" fill="none" stroke="#606060" stroke-width="1.15" stroke-opacity="0.4" stroke-miterlimit="3"/>
<path d="M498.3 123.89L499.9 127.14L498.3 130.39L496.7 127.14Z" fill="none" stroke="#606060" stroke-width="1.15" stroke-opacity="0.4" stroke-miterlimit="3"/>
<path d="M500.9 137.53L502.5 140.78L500.9 144.03L499.3 140.78Z" fill="none" stroke="#606060" stroke-width="1.15" stroke-opacity="0.4" stroke-miterlimit="3"/>
<path d="M507.39 151.17L508.99 154.42L507.39 157.67L505.79 154.42Z" fill="none" stroke="#606060" stroke-width="1.15" stroke-opacity="0.64" stroke-miterlimit="3"/>
<path d="M509.99 150.52L511.59 153.77L509.99 157.02L508.39 153.77Z" fill="none" stroke="#606060" stroke-width="1.15" stroke-opacity="0.4" stroke-miterlimit="3"/>
<path d="M640.9 105.13L642.5 108.38L640.9 111.63L639.3 108.38Z" fill="none" stroke="#606060" stroke-width="1.15" stroke-opacity="0.4" stroke-miterlimit="3"/>
<path d="M654.27 105.13L655.87 108.38L654.27 111.63L652.67 108.38Z" fill="none" stroke="#606060" stroke-width="1.15" stroke-opacity="0.4" stroke-miterlimit="3"/>
<path d="M623.49 148.96L625.09 152.21L623.49 155.46L621.89 152.21Z" fill="none" stroke="#606060" stroke-width="1.15" stroke-opacity="0.64" stroke-miterlimit="3"/>
<path d="M651.03 123.89L652.63 127.14L651.03 130.39L649.43 127.14Z" fill="none" stroke="#606060" stroke-width="1.15" stroke-opacity="0.4" stroke-miterlimit="3"/>
<path d="M645.83 137.53L647.43 140.78L645.83 144.03L644.23 140.78Z" fill="none" stroke="#606060" stroke-width="1.15" stroke-opacity="0.4" stroke-miterlimit="3"/>
<path d="M648.69 137.53L650.29 140.78L648.69 144.03L647.09 140.78Z" fill="none" stroke="#606060" stroke-width="1.15" stroke-opacity="0.4" stroke-miterlimit="3"/>
<path d="M644.86 156.33L646.46 159.58L644.86 162.83L643.26 159.58Z" fill="none" stroke="#606060" stroke-width="1.15" stroke-opacity="0.64" stroke-miterlimit="3"/>
<path d="M447.91 124.28L449.51 127.53L447.91 130.78L446.31 127.53Z" fill="none" stroke="#606060" stroke-width="1.15" stroke-opacity="0.8" stroke-miterlimit="3"/>
<path d="M452.32 123.89L453.92 127.14L452.32 130.39L450.72 127.14Z" fill="none" stroke="#606060" stroke-width="1.15" stroke-opacity="0.8" stroke-miterlimit="3"/>
<path d="M456.61 123.89L458.21 127.14L456.61 130.39L455.01 127.14Z" fill="none" stroke="#606060" stroke-width="1.15" stroke-opacity="0.4" stroke-miterlimit="3"/>
<path d="M461.81 129.74L463.41 132.99L461.81 136.24L460.21 132.99Z" fill="none" stroke="#606060" stroke-width="1.15" stroke-opacity="0.4" stroke-miterlimit="3"/>
<path d="M465.05 132.98L466.65 136.23L465.05 139.48L463.45 136.23Z" fill="none" stroke="#606060" stroke-width="1.15" stroke-opacity="0.4" stroke-miterlimit="3"/>
<path d="M460.9 138.83L462.5 142.08L460.9 145.33L459.3 142.08Z" fill="none" stroke="#606060" stroke-width="1.15" stroke-opacity="0.8" stroke-miterlimit="3"/>
<path d="M464.79 142.72L466.39 145.97L464.79 149.22L463.19 145.97Z" fill="none" stroke="#606060" stroke-width="1.15" stroke-opacity="0.8" stroke-miterlimit="3"/>
<path d="M471.55 145.32L473.15 148.57L471.55 151.82L469.95 148.57Z" fill="none" stroke="#606060" stroke-width="1.15" stroke-opacity="0.64" stroke-miterlimit="3"/>
<path d="M472.19 149.87L473.79 153.12L472.19 156.37L470.59 153.12Z" fill="none" stroke="#606060" stroke-width="1.15" stroke-opacity="0.64" stroke-miterlimit="3"/>
<path d="M469.6 152.46L471.2 155.71L469.6 158.96L468 155.71Z" fill="none" stroke="#606060" stroke-width="1.15" stroke-opacity="0.8" stroke-miterlimit="3"/>
<path d="M468.3 154.41L469.9 157.66L468.3 160.91L466.7 157.66Z" fill="none" stroke="#606060" stroke-width="1.15" stroke-opacity="0.64" stroke-miterlimit="3"/>
<path d="M472.84 151.17L474.44 154.42L472.84 157.67L471.24 154.42Z" fill="none" stroke="#606060" stroke-width="1.15" stroke-opacity="0.4" stroke-miterlimit="3"/>
<path d="M462.71 154.41L464.31 157.66L462.71 160.91L461.11 157.66Z" fill="none" stroke="#606060" stroke-width="1.15" stroke-opacity="0.64" stroke-miterlimit="3"/>
<path d="M479.34 149.22L480.94 152.47L479.34 155.72L477.74 152.47Z" fill="none" stroke="#606060" stroke-width="1.15" stroke-opacity="0.8" stroke-miterlimit="3"/>
<path d="M482.58 136.23L484.18 139.48L482.58 142.73L480.98 139.48Z" fill="none" stroke="#606060" stroke-width="1.15" stroke-opacity="0.8" stroke-miterlimit="3"/>
<path d="M483.23 141.43L484.83 144.68L483.23 147.93L481.63 144.68Z" fill="none" stroke="#606060" stroke-width="1.15" stroke-opacity="0.8" stroke-miterlimit="3"/>
<path d="M484.53 144.67L486.13 147.92L484.53 151.17L482.93 147.92Z" fill="none" stroke="#606060" stroke-width="1.15" stroke-opacity="0.4" stroke-miterlimit="3"/>
<path d="M492.97 144.67L494.57 147.92L492.97 151.17L491.37 147.92Z" fill="none" stroke="#606060" stroke-width="1.15" stroke-opacity="0.4" stroke-miterlimit="3"/>
<path d="M424.79 144.67L426.39 147.92L424.79 151.17L423.19 147.92Z" fill="none" stroke="#606060" stroke-width="1.15" stroke-opacity="0.4" stroke-miterlimit="3"/>
<path d="M435.83 147.27L437.43 150.52L435.83 153.77L434.23 150.52Z" fill="none" stroke="#606060" stroke-width="1.15" stroke-opacity="0.4" stroke-miterlimit="3"/>
<path d="M474.14 117.4L475.74 120.65L474.14 123.9L472.54 120.65Z" fill="none" stroke="#606060" stroke-width="1.15" stroke-opacity="0.4" stroke-miterlimit="3"/>
<path d="M418.56 148.57L420.16 151.82L418.56 155.07L416.96 151.82Z" fill="none" stroke="#606060" stroke-width="1.15" stroke-opacity="0.4" stroke-miterlimit="3"/>
<path d="M489.73 155.06L491.33 158.31L489.73 161.56L488.13 158.31Z" fill="none" stroke="#606060" stroke-width="1.15" stroke-opacity="0.64" stroke-miterlimit="3"/>
<path d="M492.32 154.41L493.92 157.66L492.32 160.91L490.72 157.66Z" fill="none" stroke="#606060" stroke-width="1.15" stroke-opacity="0.4" stroke-miterlimit="3"/>
<path d="M484.53 155.71L486.13 158.96L484.53 162.21L482.93 158.96Z" fill="none" stroke="#606060" stroke-width="1.15" stroke-opacity="0.4" stroke-miterlimit="3"/>
<path d="M484.27 158.89L485.87 162.14L484.27 165.39L482.67 162.14Z" fill="none" stroke="#606060" stroke-width="1.15" stroke-opacity="0.8" stroke-miterlimit="3"/>
<path d="M491.03 158.24L492.63 161.49L491.03 164.74L489.43 161.49Z" fill="none" stroke="#606060" stroke-width="1.15" stroke-opacity="0.8" stroke-miterlimit="3"/>
<path d="M493.62 156.94L495.22 160.19L493.62 163.44L492.02 160.19Z" fill="none" stroke="#606060" stroke-width="1.15" stroke-opacity="0.4" stroke-miterlimit="3"/>
<path d="M495.57 159.54L497.17 162.79L495.57 166.04L493.97 162.79Z" fill="none" stroke="#606060" stroke-width="1.15" stroke-opacity="0.64" stroke-miterlimit="3"/>
<path d="M477.78 168.63L479.38 171.88L477.78 175.13L476.18 171.88Z" fill="none" stroke="#606060" stroke-width="1.15" stroke-opacity="0.8" stroke-miterlimit="3"/>
<path d="M482.58 166.04L484.18 169.29L482.58 172.54L480.98 169.29Z" fill="none" stroke="#606060" stroke-width="1.15" stroke-opacity="0.8" stroke-miterlimit="3"/>
<path d="M483.88 169.93L485.48 173.18L483.88 176.43L482.28 173.18Z" fill="none" stroke="#606060" stroke-width="1.15" stroke-opacity="0.8" stroke-miterlimit="3"/>
<path d="M488.43 167.98L490.03 171.23L488.43 174.48L486.83 171.23Z" fill="none" stroke="#606060" stroke-width="1.15" stroke-opacity="0.8" stroke-miterlimit="3"/>
<path d="M465.31 174.87L466.91 178.12L465.31 181.37L463.71 178.12Z" fill="none" stroke="#606060" stroke-width="1.15" stroke-opacity="0.4" stroke-miterlimit="3"/>
<path d="M460.9 187.85L462.5 191.1L460.9 194.35L459.3 191.1Z" fill="none" stroke="#606060" stroke-width="1.15" stroke-opacity="0.8" stroke-miterlimit="3"/>
<path d="M490.38 179.67L491.98 182.92L490.38 186.17L488.78 182.92Z" fill="none" stroke="#606060" stroke-width="1.15" stroke-opacity="0.64" stroke-miterlimit="3"/>
<path d="M492.32 179.67L493.92 182.92L492.32 186.17L490.72 182.92Z" fill="none" stroke="#606060" stroke-width="1.15" stroke-opacity="0.64" stroke-miterlimit="3"/>
<path d="M495.57 175.78L497.17 179.03L495.57 182.28L493.97 179.03Z" fill="none" stroke="#606060" stroke-width="1.15" stroke-opacity="0.8" stroke-miterlimit="3"/>
<path d="M493.62 189.41L495.22 192.66L493.62 195.91L492.02 192.66Z" fill="none" stroke="#606060" stroke-width="1.15" stroke-opacity="0.8" stroke-miterlimit="3"/>
<path d="M496.42 187.65L498.02 190.9L496.42 194.15L494.82 190.9Z" fill="none" stroke="#606060" stroke-width="1.15" stroke-opacity="0.64" stroke-miterlimit="3"/>
<path d="M567.78 183.57L569.38 186.82L567.78 190.07L566.18 186.82Z" fill="none" stroke="#606060" stroke-width="1.15" stroke-opacity="0.64" stroke-miterlimit="3"/>
<path d="M556.09 183.57L557.69 186.82L556.09 190.07L554.49 186.82Z" fill="none" stroke="#606060" stroke-width="1.15" stroke-opacity="0.64" stroke-miterlimit="3"/>
<path d="M549.99 182.92L551.59 186.17L549.99 189.42L548.39 186.17Z" fill="none" stroke="#606060" stroke-width="1.15" stroke-opacity="0.4" stroke-miterlimit="3"/>
<path d="M519.73 164.09L521.33 167.34L519.73 170.59L518.13 167.34Z" fill="none" stroke="#606060" stroke-width="1.15" stroke-opacity="0.64" stroke-miterlimit="3"/>
<path d="M516.22 173.83L517.82 177.08L516.22 180.33L514.62 177.08Z" fill="none" stroke="#606060" stroke-width="1.15" stroke-opacity="0.64" stroke-miterlimit="3"/>
<path d="M511.29 175.78L512.89 179.03L511.29 182.28L509.69 179.03Z" fill="none" stroke="#606060" stroke-width="1.15" stroke-opacity="0.64" stroke-miterlimit="3"/>
<path d="M505.44 158.89L507.04 162.14L505.44 165.39L503.84 162.14Z" fill="none" stroke="#606060" stroke-width="1.15" stroke-opacity="0.64" stroke-miterlimit="3"/>
<path d="M498.95 164.09L500.55 167.34L498.95 170.59L497.35 167.34Z" fill="none" stroke="#606060" stroke-width="1.15" stroke-opacity="0.64" stroke-miterlimit="3"/>
<path d="M502.19 169.93L503.79 173.18L502.19 176.43L500.59 173.18Z" fill="none" stroke="#606060" stroke-width="1.15" stroke-opacity="0.64" stroke-miterlimit="3"/>
<path d="M498.95 176.43L500.55 179.68L498.95 182.93L497.35 179.68Z" fill="none" stroke="#606060" stroke-width="1.15" stroke-opacity="0.64" stroke-miterlimit="3"/>
<path d="M502.84 173.83L504.44 177.08L502.84 180.33L501.24 177.08Z" fill="none" stroke="#606060" stroke-width="1.15" stroke-opacity="0.64" stroke-miterlimit="3"/>
<path d="M504.79 177.72L506.39 180.97L504.79 184.22L503.19 180.97Z" fill="none" stroke="#606060" stroke-width="1.15" stroke-opacity="0.64" stroke-miterlimit="3"/>
<path d="M500.25 181.62L501.85 184.87L500.25 188.12L498.65 184.87Z" fill="none" stroke="#606060" stroke-width="1.15" stroke-opacity="0.64" stroke-miterlimit="3"/>
<path d="M504.14 184.87L505.74 188.12L504.14 191.37L502.54 188.12Z" fill="none" stroke="#606060" stroke-width="1.15" stroke-opacity="0.64" stroke-miterlimit="3"/>
<path d="M509.99 181.62L511.59 184.87L509.99 188.12L508.39 184.87Z" fill="none" stroke="#606060" stroke-width="1.15" stroke-opacity="0.64" stroke-miterlimit="3"/>
<path d="M513.88 180.32L515.48 183.57L513.88 186.82L512.28 183.57Z" fill="none" stroke="#606060" stroke-width="1.15" stroke-opacity="0.64" stroke-miterlimit="3"/>
<path d="M515.03 184.69L516.63 187.94L515.03 191.19L513.43 187.94Z" fill="none" stroke="#606060" stroke-width="1.15" stroke-opacity="0.64" stroke-miterlimit="3"/>
<path d="M518.43 183.57L520.03 186.82L518.43 190.07L516.83 186.82Z" fill="none" stroke="#606060" stroke-width="1.15" stroke-opacity="0.64" stroke-miterlimit="3"/>
<path d="M521.41 186.88L523.01 190.13L521.41 193.38L519.81 190.13Z" fill="none" stroke="#606060" stroke-width="1.15" stroke-opacity="0.64" stroke-miterlimit="3"/>
<path d="M532.06 175.13L533.66 178.38L532.06 181.63L530.46 178.38Z" fill="none" stroke="#606060" stroke-width="1.15" stroke-opacity="0.4" stroke-miterlimit="3"/>
<path d="M534.01 177.72L535.61 180.97L534.01 184.22L532.41 180.97Z" fill="none" stroke="#606060" stroke-width="1.15" stroke-opacity="0.4" stroke-miterlimit="3"/>
<path d="M532.71 181.62L534.31 184.87L532.71 188.12L531.11 184.87Z" fill="none" stroke="#606060" stroke-width="1.15" stroke-opacity="0.4" stroke-miterlimit="3"/>
<path d="M528.55 185.86L530.15 189.11L528.55 192.36L526.95 189.11Z" fill="none" stroke="#606060" stroke-width="1.15" stroke-opacity="0.64" stroke-miterlimit="3"/>
<path d="M536.58 189.39L538.18 192.64L536.58 195.89L534.98 192.64Z" fill="none" stroke="#606060" stroke-width="1.15" stroke-opacity="0.4" stroke-miterlimit="3"/>
<path d="M554.17 188.06L555.77 191.31L554.17 194.56L552.57 191.31Z" fill="none" stroke="#606060" stroke-width="1.15" stroke-opacity="0.8" stroke-miterlimit="3"/>
<path d="M508.01 189.52L509.61 192.77L508.01 196.02L506.41 192.77Z" fill="none" stroke="#606060" stroke-width="1.15" stroke-opacity="0.64" stroke-miterlimit="3"/>
<path d="M499.94 190.12L501.54 193.38L499.94 196.62L498.34 193.38Z" fill="none" stroke="#606060" stroke-width="1.15" stroke-opacity="0.64" stroke-miterlimit="3"/>
<path d="M610.12 164.09L611.72 167.34L610.12 170.59L608.52 167.34Z" fill="none" stroke="#606060" stroke-width="1.15" stroke-opacity="0.4" stroke-miterlimit="3"/>
<path d="M640.25 160.84L641.85 164.09L640.25 167.34L638.65 164.09Z" fill="none" stroke="#606060" stroke-width="1.15" stroke-opacity="0.64" stroke-miterlimit="3"/>
<path d="M641.68 168.63L643.28 171.88L641.68 175.13L640.08 171.88Z" fill="none" stroke="#606060" stroke-width="1.15" stroke-opacity="0.64" stroke-miterlimit="3"/>
<path d="M636.09 171.23L637.69 174.48L636.09 177.73L634.49 174.48Z" fill="none" stroke="#606060" stroke-width="1.15" stroke-opacity="0.64" stroke-miterlimit="3"/>
<path d="M628.95 171.23L630.55 174.48L628.95 177.73L627.35 174.48Z" fill="none" stroke="#606060" stroke-width="1.15" stroke-opacity="0.4" stroke-miterlimit="3"/>
<path d="M630.25 177.07L631.85 180.32L630.25 183.57L628.65 180.32Z" fill="none" stroke="#606060" stroke-width="1.15" stroke-opacity="0.64" stroke-miterlimit="3"/>
<path d="M651.29 176.43L652.89 179.68L651.29 182.93L649.69 179.68Z" fill="none" stroke="#606060" stroke-width="1.15" stroke-opacity="0.4" stroke-miterlimit="3"/>
<path d="M589.35 188.79L590.95 192.04L589.35 195.29L587.75 192.04Z" fill="none" stroke="#606060" stroke-width="1.15" stroke-opacity="0.4" stroke-miterlimit="3"/>
<path d="M644.53 190.06L646.13 193.31L644.53 196.56L642.93 193.31Z" fill="none" stroke="#606060" stroke-width="1.15" stroke-opacity="0.4" stroke-miterlimit="3"/>
<path d="M681.47 142.62L683.07 145.87L681.47 149.12L679.87 145.87Z" fill="none" stroke="#606060" stroke-width="1.15" stroke-opacity="0.4" stroke-miterlimit="3"/>
<path d="M658.09 146.71L659.69 149.96L658.09 153.21L656.49 149.96Z" fill="none" stroke="#606060" stroke-width="1.15" stroke-opacity="0.64" stroke-miterlimit="3"/>
<path d="M458.56 197.79L460.16 201.04L458.56 204.29L456.96 201.04Z" fill="none" stroke="#606060" stroke-width="1.15" stroke-opacity="0.4" stroke-miterlimit="3"/>
<path d="M494.51 211.74L496.11 214.99L494.51 218.24L492.91 214.99Z" fill="none" stroke="#606060" stroke-width="1.15" stroke-opacity="0.64" stroke-miterlimit="3"/>
<path d="M492.06 223.11L493.66 226.36L492.06 229.61L490.46 226.36Z" fill="none" stroke="#606060" stroke-width="1.15" stroke-opacity="0.64" stroke-miterlimit="3"/>
<path d="M499.87 185.97L501.47 189.22L499.87 192.47L498.27 189.22Z" fill="none" stroke="#606060" stroke-width="1.15" stroke-opacity="0.64" stroke-miterlimit="3"/>
<path d="M502.71 186.78L504.31 190.03L502.71 193.28L501.11 190.03Z" fill="none" stroke="#606060" stroke-width="1.15" stroke-opacity="0.64" stroke-miterlimit="3"/>
<path d="M507.18 185.56L508.78 188.81L507.18 192.06L505.58 188.81Z" fill="none" stroke="#606060" stroke-width="1.15" stroke-opacity="0.64" stroke-miterlimit="3"/>
<path d="M517.32 186.37L518.92 189.62L517.32 192.87L515.72 189.62Z" fill="none" stroke="#606060" stroke-width="1.15" stroke-opacity="0.64" stroke-miterlimit="3"/>
<path d="M525.84 187.19L527.44 190.44L525.84 193.69L524.24 190.44Z" fill="none" stroke="#606060" stroke-width="1.15" stroke-opacity="0.4" stroke-miterlimit="3"/>
<path d="M537.21 185.56L538.81 188.81L537.21 192.06L535.61 188.81Z" fill="none" stroke="#606060" stroke-width="1.15" stroke-opacity="0.4" stroke-miterlimit="3"/>
<path d="M503.12 191.24L504.72 194.49L503.12 197.74L501.52 194.49Z" fill="none" stroke="#606060" stroke-width="1.15" stroke-opacity="0.64" stroke-miterlimit="3"/>
<path d="M510.42 192.06L512.02 195.31L510.42 198.56L508.82 195.31Z" fill="none" stroke="#606060" stroke-width="1.15" stroke-opacity="0.64" stroke-miterlimit="3"/>
<path d="M514.89 191.65L516.49 194.9L514.89 198.15L513.29 194.9Z" fill="none" stroke="#606060" stroke-width="1.15" stroke-opacity="0.64" stroke-miterlimit="3"/>
<path d="M519.35 189.62L520.95 192.87L519.35 196.12L517.75 192.87Z" fill="none" stroke="#606060" stroke-width="1.15" stroke-opacity="0.64" stroke-miterlimit="3"/>
<path d="M524.22 190.03L525.82 193.28L524.22 196.53L522.62 193.28Z" fill="none" stroke="#606060" stroke-width="1.15" stroke-opacity="0.4" stroke-miterlimit="3"/>
<path d="M528.69 189.21L530.29 192.46L528.69 195.71L527.09 192.46Z" fill="none" stroke="#606060" stroke-width="1.15" stroke-opacity="0.64" stroke-miterlimit="3"/>
<path d="M529.9 192.87L531.5 196.12L529.9 199.37L528.3 196.12Z" fill="none" stroke="#606060" stroke-width="1.15" stroke-opacity="0.4" stroke-miterlimit="3"/>
<path d="M534.77 192.87L536.37 196.12L534.77 199.37L533.17 196.12Z" fill="none" stroke="#606060" stroke-width="1.15" stroke-opacity="0.4" stroke-miterlimit="3"/>
<path d="M533.15 195.71L534.75 198.96L533.15 202.21L531.55 198.96Z" fill="none" stroke="#606060" stroke-width="1.15" stroke-opacity="0.4" stroke-miterlimit="3"/>
<path d="M502.31 197.33L503.91 200.58L502.31 203.83L500.71 200.58Z" fill="none" stroke="#606060" stroke-width="1.15" stroke-opacity="0.64" stroke-miterlimit="3"/>
<path d="M512.05 194.9L513.65 198.15L512.05 201.4L510.45 198.15Z" fill="none" stroke="#606060" stroke-width="1.15" stroke-opacity="0.8" stroke-miterlimit="3"/>
<path d="M516.92 195.3L518.52 198.55L516.92 201.8L515.32 198.55Z" fill="none" stroke="#606060" stroke-width="1.15" stroke-opacity="0.64" stroke-miterlimit="3"/>
<path d="M514.48 197.74L516.08 200.99L514.48 204.24L512.88 200.99Z" fill="none" stroke="#606060" stroke-width="1.15" stroke-opacity="0.8" stroke-miterlimit="3"/>
<path d="M519.35 197.33L520.95 200.58L519.35 203.83L517.75 200.58Z" fill="none" stroke="#606060" stroke-width="1.15" stroke-opacity="0.64" stroke-miterlimit="3"/>
<path d="M522.19 198.95L523.79 202.2L522.19 205.45L520.59 202.2Z" fill="none" stroke="#606060" stroke-width="1.15" stroke-opacity="0.64" stroke-miterlimit="3"/>
<path d="M540.45 195.3L542.05 198.55L540.45 201.8L538.85 198.55Z" fill="none" stroke="#606060" stroke-width="1.15" stroke-opacity="0.4" stroke-miterlimit="3"/>
<path d="M504.33 202.61L505.93 205.86L504.33 209.11L502.73 205.86Z" fill="none" stroke="#606060" stroke-width="1.15" stroke-opacity="0.64" stroke-miterlimit="3"/>
<path d="M507.18 203.82L508.78 207.07L507.18 210.32L505.58 207.07Z" fill="none" stroke="#606060" stroke-width="1.15" stroke-opacity="0.64" stroke-miterlimit="3"/>
<path d="M510.83 201.39L512.43 204.64L510.83 207.89L509.23 204.64Z" fill="none" stroke="#606060" stroke-width="1.15" stroke-opacity="0.8" stroke-miterlimit="3"/>
<path d="M513.26 203.01L514.86 206.26L513.26 209.51L511.66 206.26Z" fill="none" stroke="#606060" stroke-width="1.15" stroke-opacity="0.8" stroke-miterlimit="3"/>
<path d="M516.51 200.98L518.11 204.23L516.51 207.48L514.91 204.23Z" fill="none" stroke="#606060" stroke-width="1.15" stroke-opacity="0.64" stroke-miterlimit="3"/>
<path d="M519.35 201.8L520.95 205.05L519.35 208.3L517.75 205.05Z" fill="none" stroke="#606060" stroke-width="1.15" stroke-opacity="0.64" stroke-miterlimit="3"/>
<path d="M523 202.2L524.6 205.45L523 208.7L521.4 205.45Z" fill="none" stroke="#606060" stroke-width="1.15" stroke-opacity="0.64" stroke-miterlimit="3"/>
<path d="M526.66 203.82L528.26 207.07L526.66 210.32L525.06 207.07Z" fill="none" stroke="#606060" stroke-width="1.15" stroke-opacity="0.64" stroke-miterlimit="3"/>
<path d="M531.93 203.01L533.53 206.26L531.93 209.51L530.33 206.26Z" fill="none" stroke="#606060" stroke-width="1.15" stroke-opacity="0.4" stroke-miterlimit="3"/>
<path d="M535.58 202.2L537.18 205.45L535.58 208.7L533.98 205.45Z" fill="none" stroke="#606060" stroke-width="1.15" stroke-opacity="0.64" stroke-miterlimit="3"/>
<path d="M539.24 201.8L540.84 205.05L539.24 208.3L537.64 205.05Z" fill="none" stroke="#606060" stroke-width="1.15" stroke-opacity="0.4" stroke-miterlimit="3"/>
<path d="M502.51 207.53L504.11 210.78L502.51 214.03L500.91 210.78Z" fill="none" stroke="#606060" stroke-width="1.15" stroke-opacity="0.64" stroke-miterlimit="3"/>
<path d="M511.23 206.26L512.83 209.51L511.23 212.76L509.63 209.51Z" fill="none" stroke="#606060" stroke-width="1.15" stroke-opacity="0.64" stroke-miterlimit="3"/>
<path d="M514.89 207.74L516.49 210.99L514.89 214.24L513.29 210.99Z" fill="none" stroke="#606060" stroke-width="1.15" stroke-opacity="0.64" stroke-miterlimit="3"/>
<path d="M518.94 206.93L520.54 210.18L518.94 213.43L517.34 210.18Z" fill="none" stroke="#606060" stroke-width="1.15" stroke-opacity="0.64" stroke-miterlimit="3"/>
<path d="M521.79 206.26L523.39 209.51L521.79 212.76L520.19 209.51Z" fill="none" stroke="#606060" stroke-width="1.15" stroke-opacity="0.8" stroke-miterlimit="3"/>
<path d="M528.69 208.55L530.29 211.8L528.69 215.05L527.09 211.8Z" fill="none" stroke="#606060" stroke-width="1.15" stroke-opacity="0.64" stroke-miterlimit="3"/>
<path d="M533.15 206.67L534.75 209.92L533.15 213.17L531.55 209.92Z" fill="none" stroke="#606060" stroke-width="1.15" stroke-opacity="0.64" stroke-miterlimit="3"/>
<path d="M538.02 206.26L539.62 209.51L538.02 212.76L536.42 209.51Z" fill="none" stroke="#606060" stroke-width="1.15" stroke-opacity="0.4" stroke-miterlimit="3"/>
<path d="M540.3 207.96L541.9 211.21L540.3 214.46L538.7 211.21Z" fill="none" stroke="#606060" stroke-width="1.15" stroke-opacity="0.64" stroke-miterlimit="3"/>
<path d="M499.87 208L501.47 211.25L499.87 214.5L498.27 211.25Z" fill="none" stroke="#606060" stroke-width="1.15" stroke-opacity="0.4" stroke-miterlimit="3"/>
<path d="M501.49 220.58L503.09 223.83L501.49 227.08L499.89 223.83Z" fill="none" stroke="#606060" stroke-width="1.15" stroke-opacity="0.64" stroke-miterlimit="3"/>
<path d="M505.96 222.61L507.56 225.86L505.96 229.11L504.36 225.86Z" fill="none" stroke="#606060" stroke-width="1.15" stroke-opacity="0.64" stroke-miterlimit="3"/>
<path d="M513.26 223.82L514.86 227.07L513.26 230.32L511.66 227.07Z" fill="none" stroke="#606060" stroke-width="1.15" stroke-opacity="0.4" stroke-miterlimit="3"/>
<path d="M512.05 215.3L513.65 218.55L512.05 221.8L510.45 218.55Z" fill="none" stroke="#606060" stroke-width="1.15" stroke-opacity="0.64" stroke-miterlimit="3"/>
<path d="M515.29 212.46L516.89 215.71L515.29 218.96L513.69 215.71Z" fill="none" stroke="#606060" stroke-width="1.15" stroke-opacity="0.64" stroke-miterlimit="3"/>
<path d="M521.79 213.68L523.39 216.93L521.79 220.18L520.19 216.93Z" fill="none" stroke="#606060" stroke-width="1.15" stroke-opacity="0.64" stroke-miterlimit="3"/>
<path d="M519.35 217.74L520.95 220.99L519.35 224.24L517.75 220.99Z" fill="none" stroke="#606060" stroke-width="1.15" stroke-opacity="0.8" stroke-miterlimit="3"/>
<path d="M516.51 218.95L518.11 222.2L516.51 225.45L514.91 222.2Z" fill="none" stroke="#606060" stroke-width="1.15" stroke-opacity="0.64" stroke-miterlimit="3"/>
<path d="M523.81 218.55L525.41 221.8L523.81 225.05L522.21 221.8Z" fill="none" stroke="#606060" stroke-width="1.15" stroke-opacity="0.8" stroke-miterlimit="3"/>
<path d="M526.66 214.49L528.26 217.74L526.66 220.99L525.06 217.74Z" fill="none" stroke="#606060" stroke-width="1.15" stroke-opacity="0.8" stroke-miterlimit="3"/>
<path d="M530.71 214.49L532.31 217.74L530.71 220.99L529.11 217.74Z" fill="none" stroke="#606060" stroke-width="1.15" stroke-opacity="0.64" stroke-miterlimit="3"/>
<path d="M533.15 209.62L534.75 212.87L533.15 216.12L531.55 212.87Z" fill="none" stroke="#606060" stroke-width="1.15" stroke-opacity="0.64" stroke-miterlimit="3"/>
<path d="M535.58 207.59L537.18 210.84L535.58 214.09L533.98 210.84Z" fill="none" stroke="#606060" stroke-width="1.15" stroke-opacity="0.64" stroke-miterlimit="3"/>
<path d="M536.8 212.87L538.4 216.12L536.8 219.37L535.2 216.12Z" fill="none" stroke="#606060" stroke-width="1.15" stroke-opacity="0.64" stroke-miterlimit="3"/>
<path d="M533.96 216.93L535.56 220.18L533.96 223.43L532.36 220.18Z" fill="none" stroke="#606060" stroke-width="1.15" stroke-opacity="0.64" stroke-miterlimit="3"/>
<path d="M537.21 218.55L538.81 221.8L537.21 225.05L535.61 221.8Z" fill="none" stroke="#606060" stroke-width="1.15" stroke-opacity="0.64" stroke-miterlimit="3"/>
<path d="M541.44 217.74L543.04 220.99L541.44 224.24L539.84 220.99Z" fill="none" stroke="#606060" stroke-width="1.15" stroke-opacity="0.64" stroke-miterlimit="3"/>
<path d="M543.3 220.17L544.9 223.42L543.3 226.67L541.7 223.42Z" fill="none" stroke="#606060" stroke-width="1.15" stroke-opacity="0.4" stroke-miterlimit="3"/>
<path d="M537.21 224.23L538.81 227.48L537.21 230.73L535.61 227.48Z" fill="none" stroke="#606060" stroke-width="1.15" stroke-opacity="0.64" stroke-miterlimit="3"/>
<path d="M540.83 226.57L542.43 229.82L540.83 233.07L539.23 229.82Z" fill="none" stroke="#606060" stroke-width="1.15" stroke-opacity="0.64" stroke-miterlimit="3"/>
<path d="M521.79 221.8L523.39 225.05L521.79 228.3L520.19 225.05Z" fill="none" stroke="#606060" stroke-width="1.15" stroke-opacity="0.8" stroke-miterlimit="3"/>
<path d="M524.22 224.23L525.82 227.48L524.22 230.73L522.62 227.48Z" fill="none" stroke="#606060" stroke-width="1.15" stroke-opacity="0.64" stroke-miterlimit="3"/>
<path d="M526.66 220.98L528.26 224.23L526.66 227.48L525.06 224.23Z" fill="none" stroke="#606060" stroke-width="1.15" stroke-opacity="0.8" stroke-miterlimit="3"/>
<path d="M529.09 224.23L530.69 227.48L529.09 230.73L527.49 227.48Z" fill="none" stroke="#606060" stroke-width="1.15" stroke-opacity="0.8" stroke-miterlimit="3"/>
<path d="M531.53 220.98L533.13 224.23L531.53 227.48L529.93 224.23Z" fill="none" stroke="#606060" stroke-width="1.15" stroke-opacity="0.64" stroke-miterlimit="3"/>
<path d="M533.15 225.85L534.75 229.1L533.15 232.35L531.55 229.1Z" fill="none" stroke="#606060" stroke-width="1.15" stroke-opacity="0.64" stroke-miterlimit="3"/>
<path d="M519.35 226.72L520.95 229.97L519.35 233.22L517.75 229.97Z" fill="none" stroke="#606060" stroke-width="1.15" stroke-opacity="0.64" stroke-miterlimit="3"/>
<path d="M526.86 227.94L528.46 231.19L526.86 234.44L525.26 231.19Z" fill="none" stroke="#606060" stroke-width="1.15" stroke-opacity="0.64" stroke-miterlimit="3"/>
<path d="M531.53 228.55L533.13 231.8L531.53 235.05L529.93 231.8Z" fill="none" stroke="#606060" stroke-width="1.15" stroke-opacity="0.8" stroke-miterlimit="3"/>
<path d="M522.6 228.29L524.2 231.54L522.6 234.79L521 231.54Z" fill="none" stroke="#606060" stroke-width="1.15" stroke-opacity="0.64" stroke-miterlimit="3"/>
<path d="M553.8 191.65L555.4 194.9L553.8 198.15L552.2 194.9Z" fill="none" stroke="#606060" stroke-width="1.15" stroke-opacity="0.8" stroke-miterlimit="3"/>
<path d="M549.33 194.9L550.93 198.15L549.33 201.4L547.73 198.15Z" fill="none" stroke="#606060" stroke-width="1.15" stroke-opacity="0.4" stroke-miterlimit="3"/>
<path d="M544.46 198.95L546.06 202.2L544.46 205.45L542.86 202.2Z" fill="none" stroke="#606060" stroke-width="1.15" stroke-opacity="0.64" stroke-miterlimit="3"/>
<path d="M547.71 201.8L549.31 205.05L547.71 208.3L546.11 205.05Z" fill="none" stroke="#606060" stroke-width="1.15" stroke-opacity="0.4" stroke-miterlimit="3"/>
<path d="M540.81 205.45L542.41 208.7L540.81 211.95L539.21 208.7Z" fill="none" stroke="#606060" stroke-width="1.15" stroke-opacity="0.64" stroke-miterlimit="3"/>
<path d="M547.91 207.53L549.51 210.78L547.91 214.03L546.31 210.78Z" fill="none" stroke="#606060" stroke-width="1.15" stroke-opacity="0.8" stroke-miterlimit="3"/>
<path d="M560.82 207.74L562.42 210.99L560.82 214.24L559.22 210.99Z" fill="none" stroke="#606060" stroke-width="1.15" stroke-opacity="0.64" stroke-miterlimit="3"/>
<path d="M579.77 208.29L581.37 211.54L579.77 214.79L578.17 211.54Z" fill="none" stroke="#606060" stroke-width="1.15" stroke-opacity="0.4" stroke-miterlimit="3"/>
<path d="M550.15 209.62L551.75 212.87L550.15 216.12L548.55 212.87Z" fill="none" stroke="#606060" stroke-width="1.15" stroke-opacity="0.64" stroke-miterlimit="3"/>
<path d="M544.87 213.68L546.47 216.93L544.87 220.18L543.27 216.93Z" fill="none" stroke="#606060" stroke-width="1.15" stroke-opacity="0.64" stroke-miterlimit="3"/>
<path d="M554.2 213.68L555.8 216.93L554.2 220.18L552.6 216.93Z" fill="none" stroke="#606060" stroke-width="1.15" stroke-opacity="0.64" stroke-miterlimit="3"/>
<path d="M548.12 220.58L549.72 223.83L548.12 227.08L546.52 223.83Z" fill="none" stroke="#606060" stroke-width="1.15" stroke-opacity="0.64" stroke-miterlimit="3"/>
<path d="M551.36 222.61L552.96 225.86L551.36 229.11L549.76 225.86Z" fill="none" stroke="#606060" stroke-width="1.15" stroke-opacity="0.64" stroke-miterlimit="3"/>
<path d="M555.42 219.36L557.02 222.61L555.42 225.86L553.82 222.61Z" fill="none" stroke="#606060" stroke-width="1.15" stroke-opacity="0.64" stroke-miterlimit="3"/>
<path d="M557.05 223.01L558.65 226.26L557.05 229.51L555.45 226.26Z" fill="none" stroke="#606060" stroke-width="1.15" stroke-opacity="0.64" stroke-miterlimit="3"/>
<path d="M543.65 223.01L545.25 226.26L543.65 229.51L542.05 226.26Z" fill="none" stroke="#606060" stroke-width="1.15" stroke-opacity="0.64" stroke-miterlimit="3"/>
<path d="M562.56 221.39L564.16 224.64L562.56 227.89L560.96 224.64Z" fill="none" stroke="#606060" stroke-width="1.15" stroke-opacity="0.4" stroke-miterlimit="3"/>
<path d="M579.37 210.84L580.97 214.09L579.37 217.34L577.77 214.09Z" fill="none" stroke="#606060" stroke-width="1.15" stroke-opacity="0.4" stroke-miterlimit="3"/>
<path d="M585.45 219.36L587.05 222.61L585.45 225.86L583.85 222.61Z" fill="none" stroke="#606060" stroke-width="1.15" stroke-opacity="0.64" stroke-miterlimit="3"/>
<path d="M587.48 223.42L589.08 226.67L587.48 229.92L585.88 226.67Z" fill="none" stroke="#606060" stroke-width="1.15" stroke-opacity="0.64" stroke-miterlimit="3"/>
<path d="M578.96 226.26L580.56 229.51L578.96 232.76L577.36 229.51Z" fill="none" stroke="#606060" stroke-width="1.15" stroke-opacity="0.64" stroke-miterlimit="3"/>
<path d="M555.62 228.35L557.23 231.6L555.62 234.85L554.02 231.6Z" fill="none" stroke="#606060" stroke-width="1.15" stroke-opacity="0.64" stroke-miterlimit="3"/>
<path d="M523.81 231.24L525.41 234.49L523.81 237.74L522.21 234.49Z" fill="none" stroke="#606060" stroke-width="1.15" stroke-opacity="0.64" stroke-miterlimit="3"/>
<path d="M529.09 232.06L530.69 235.31L529.09 238.56L527.49 235.31Z" fill="none" stroke="#606060" stroke-width="1.15" stroke-opacity="0.8" stroke-miterlimit="3"/>
<path d="M535.58 232.06L537.18 235.31L535.58 238.56L533.98 235.31Z" fill="none" stroke="#606060" stroke-width="1.15" stroke-opacity="0.64" stroke-miterlimit="3"/>
<path d="M523.81 235.3L525.41 238.55L523.81 241.8L522.21 238.55Z" fill="none" stroke="#606060" stroke-width="1.15" stroke-opacity="0.64" stroke-miterlimit="3"/>
<path d="M529.09 236.93L530.69 240.18L529.09 243.43L527.49 240.18Z" fill="none" stroke="#606060" stroke-width="1.15" stroke-opacity="0.64" stroke-miterlimit="3"/>
<path d="M533.15 236.93L534.75 240.18L533.15 243.43L531.55 240.18Z" fill="none" stroke="#606060" stroke-width="1.15" stroke-opacity="0.64" stroke-miterlimit="3"/>
<path d="M537.21 235.3L538.81 238.55L537.21 241.8L535.61 238.55Z" fill="none" stroke="#606060" stroke-width="1.15" stroke-opacity="0.64" stroke-miterlimit="3"/>
<path d="M540.05 229.62L541.65 232.87L540.05 236.12L538.45 232.87Z" fill="none" stroke="#606060" stroke-width="1.15" stroke-opacity="0.64" stroke-miterlimit="3"/>
<path d="M542.89 234.49L544.49 237.74L542.89 240.99L541.29 237.74Z" fill="none" stroke="#606060" stroke-width="1.15" stroke-opacity="0.64" stroke-miterlimit="3"/>
<path d="M541.65 239.97L543.25 243.22L541.65 246.47L540.05 243.22Z" fill="none" stroke="#606060" stroke-width="1.15" stroke-opacity="0.64" stroke-miterlimit="3"/>
<path d="M538.43 242.61L540.03 245.86L538.43 249.11L536.83 245.86Z" fill="none" stroke="#606060" stroke-width="1.15" stroke-opacity="0.64" stroke-miterlimit="3"/>
<path d="M540.45 244.64L542.05 247.89L540.45 251.14L538.85 247.89Z" fill="none" stroke="#606060" stroke-width="1.15" stroke-opacity="0.64" stroke-miterlimit="3"/>
<path d="M532.34 242.2L533.94 245.45L532.34 248.7L530.74 245.45Z" fill="none" stroke="#606060" stroke-width="1.15" stroke-opacity="0.64" stroke-miterlimit="3"/>
<path d="M523.81 241.8L525.41 245.05L523.81 248.3L522.21 245.05Z" fill="none" stroke="#606060" stroke-width="1.15" stroke-opacity="0.64" stroke-miterlimit="3"/>
<path d="M514.89 239.36L516.49 242.61L514.89 245.86L513.29 242.61Z" fill="none" stroke="#606060" stroke-width="1.15" stroke-opacity="0.64" stroke-miterlimit="3"/>
<path d="M499.87 243.42L501.47 246.67L499.87 249.92L498.27 246.67Z" fill="none" stroke="#606060" stroke-width="1.15" stroke-opacity="0.64" stroke-miterlimit="3"/>
<path d="M515.29 247.07L516.89 250.32L515.29 253.57L513.69 250.32Z" fill="none" stroke="#606060" stroke-width="1.15" stroke-opacity="0.4" stroke-miterlimit="3"/>
<path d="M540.81 232.87L542.41 236.12L540.81 239.37L539.21 236.12Z" fill="none" stroke="#606060" stroke-width="1.15" stroke-opacity="0.8" stroke-miterlimit="3"/>
<path d="M542.44 246.67L544.04 249.92L542.44 253.17L540.84 249.92Z" fill="none" stroke="#606060" stroke-width="1.15" stroke-opacity="0.64" stroke-miterlimit="3"/>
<path d="M546.09 234.9L547.69 238.15L546.09 241.4L544.49 238.15Z" fill="none" stroke="#606060" stroke-width="1.15" stroke-opacity="0.64" stroke-miterlimit="3"/>
<path d="M547.31 224.75L548.91 228L547.31 231.25L545.71 228Z" fill="none" stroke="#606060" stroke-width="1.15" stroke-opacity="0.4" stroke-miterlimit="3"/>
<path d="M550.96 232.87L552.56 236.12L550.96 239.37L549.36 236.12Z" fill="none" stroke="#606060" stroke-width="1.15" stroke-opacity="0.8" stroke-miterlimit="3"/>
<path d="M551.77 236.52L553.37 239.77L551.77 243.02L550.17 239.77Z" fill="none" stroke="#606060" stroke-width="1.15" stroke-opacity="0.64" stroke-miterlimit="3"/>
<path d="M550.96 243.01L552.56 246.26L550.96 249.51L549.36 246.26Z" fill="none" stroke="#606060" stroke-width="1.15" stroke-opacity="0.64" stroke-miterlimit="3"/>
<path d="M555.02 242.2L556.62 245.45L555.02 248.7L553.42 245.45Z" fill="none" stroke="#606060" stroke-width="1.15" stroke-opacity="0.64" stroke-miterlimit="3"/>
<path d="M554.2 238.55L555.8 241.8L554.2 245.05L552.6 241.8Z" fill="none" stroke="#606060" stroke-width="1.15" stroke-opacity="0.64" stroke-miterlimit="3"/>
<path d="M556.23 237.74L557.83 240.99L556.23 244.24L554.63 240.99Z" fill="none" stroke="#606060" stroke-width="1.15" stroke-opacity="0.64" stroke-miterlimit="3"/>
<path d="M559.48 239.77L561.08 243.02L559.48 246.27L557.88 243.02Z" fill="none" stroke="#606060" stroke-width="1.15" stroke-opacity="0.64" stroke-miterlimit="3"/>
<path d="M562.73 246.26L564.33 249.51L562.73 252.76L561.13 249.51Z" fill="none" stroke="#606060" stroke-width="1.15" stroke-opacity="0.64" stroke-miterlimit="3"/>
<path d="M566.79 238.14L568.39 241.39L566.79 244.64L565.19 241.39Z" fill="none" stroke="#606060" stroke-width="1.15" stroke-opacity="0.64" stroke-miterlimit="3"/>
<path d="M578.96 232.46L580.56 235.71L578.96 238.96L577.36 235.71Z" fill="none" stroke="#606060" stroke-width="1.15" stroke-opacity="0.4" stroke-miterlimit="3"/>
<path d="M589.78 234.6L591.38 237.85L589.78 241.1L588.18 237.85Z" fill="none" stroke="#606060" stroke-width="1.15" stroke-opacity="0.64" stroke-miterlimit="3"/>
<path d="M597.99 206.23L599.59 209.48L597.99 212.73L596.39 209.48Z" fill="none" stroke="#606060" stroke-width="1.15" stroke-opacity="0.4" stroke-miterlimit="3"/>
<path d="M623.96 199.74L625.56 202.99L623.96 206.24L622.36 202.99Z" fill="none" stroke="#606060" stroke-width="1.15" stroke-opacity="0.8" stroke-miterlimit="3"/>
<path d="M630.19 195.84L631.79 199.09L630.19 202.34L628.59 199.09Z" fill="none" stroke="#606060" stroke-width="1.15" stroke-opacity="0.64" stroke-miterlimit="3"/>
<path d="M611.62 219.22L613.22 222.47L611.62 225.72L610.02 222.47Z" fill="none" stroke="#606060" stroke-width="1.15" stroke-opacity="0.4" stroke-miterlimit="3"/>
<path d="M622.01 225.06L623.61 228.31L622.01 231.56L620.41 228.31Z" fill="none" stroke="#606060" stroke-width="1.15" stroke-opacity="0.64" stroke-miterlimit="3"/>
<path d="M624.2 235.84L625.8 239.09L624.2 242.34L622.6 239.09Z" fill="none" stroke="#606060" stroke-width="1.15" stroke-opacity="0.64" stroke-miterlimit="3"/>
<path d="M615.11 234.36L616.71 237.61L615.11 240.86L613.51 237.61Z" fill="none" stroke="#606060" stroke-width="1.15" stroke-opacity="0.4" stroke-miterlimit="3"/>
<path d="M604.55 241.18L606.15 244.43L604.55 247.68L602.95 244.43Z" fill="none" stroke="#606060" stroke-width="1.15" stroke-opacity="0.4" stroke-miterlimit="3"/>
<path d="M633.3 241.75L634.9 245L633.3 248.25L631.7 245Z" fill="none" stroke="#606060" stroke-width="1.15" stroke-opacity="0.4" stroke-miterlimit="3"/>
<path d="M590.68 244.59L592.28 247.84L590.68 251.09L589.08 247.84Z" fill="none" stroke="#606060" stroke-width="1.15" stroke-opacity="0.4" stroke-miterlimit="3"/>
<path d="M658.86 245.73L660.46 248.98L658.86 252.23L657.26 248.98Z" fill="none" stroke="#606060" stroke-width="1.15" stroke-opacity="0.4" stroke-miterlimit="3"/>
<path d="M603.18 248L604.78 251.25L603.18 254.5L601.58 251.25Z" fill="none" stroke="#606060" stroke-width="1.15" stroke-opacity="0.4" stroke-miterlimit="3"/>
<path d="M524.4 211.75L526 215L524.4 218.25L522.8 215Z" fill="none" stroke="#606060" stroke-width="1.15" stroke-opacity="0.64" stroke-miterlimit="3"/>
<path d="M527.8 216.25L529.4 219.5L527.8 222.75L526.2 219.5Z" fill="none" stroke="#606060" stroke-width="1.15" stroke-opacity="0.64" stroke-miterlimit="3"/>
<path d="M531.2 220.75L532.8 224L531.2 227.25L529.6 224Z" fill="none" stroke="#606060" stroke-width="1.15" stroke-opacity="0.64" stroke-miterlimit="3"/>
<path d="M524.4 221.85L526 225.1L524.4 228.35L522.8 225.1Z" fill="none" stroke="#606060" stroke-width="1.15" stroke-opacity="0.64" stroke-miterlimit="3"/>
<path d="M521.1 218.55L522.7 221.8L521.1 225.05L519.5 221.8Z" fill="none" stroke="#606060" stroke-width="1.15" stroke-opacity="0.64" stroke-miterlimit="3"/>
<path d="M528.9 226.35L530.5 229.6L528.9 232.85L527.3 229.6Z" fill="none" stroke="#606060" stroke-width="1.15" stroke-opacity="0.64" stroke-miterlimit="3"/>
<path d="M533.4 229.75L535 233L533.4 236.25L531.8 233Z" fill="none" stroke="#606060" stroke-width="1.15" stroke-opacity="0.64" stroke-miterlimit="3"/>
<path d="M526.7 230.85L528.3 234.1L526.7 237.35L525.1 234.1Z" fill="none" stroke="#606060" stroke-width="1.15" stroke-opacity="0.64" stroke-miterlimit="3"/>
<path d="M535.6 235.35L537.2 238.6L535.6 241.85L534 238.6Z" fill="none" stroke="#606060" stroke-width="1.15" stroke-opacity="0.64" stroke-miterlimit="3"/>
<path d="M517.7 214.05L519.3 217.3L517.7 220.55L516.1 217.3Z" fill="none" stroke="#606060" stroke-width="1.15" stroke-opacity="0.64" stroke-miterlimit="3"/>
<path d="M532.3 214.05L533.9 217.3L532.3 220.55L530.7 217.3Z" fill="none" stroke="#606060" stroke-width="1.15" stroke-opacity="0.64" stroke-miterlimit="3"/>
<path d="M536.8 223.05L538.4 226.3L536.8 229.55L535.2 226.3Z" fill="none" stroke="#606060" stroke-width="1.15" stroke-opacity="0.64" stroke-miterlimit="3"/>
<rect x="666.75" y="47.75" width="5.3" height="5.3" fill="none" stroke="#808080" stroke-width="1.2" stroke-opacity="0.62"/>
<rect x="674.55" y="75.25" width="5.3" height="5.3" fill="none" stroke="#808080" stroke-width="1.2" stroke-opacity="0.62"/>
<rect x="623.44" y="140.47" width="5.3" height="5.3" fill="none" stroke="#808080" stroke-width="1.2" stroke-opacity="0.8"/>
<rect x="582.4" y="156.31" width="5.3" height="5.3" fill="none" stroke="#808080" stroke-width="1.2" stroke-opacity="0.62"/>
<rect x="464.35" y="186.77" width="5.3" height="5.3" fill="none" stroke="#808080" stroke-width="1.2" stroke-opacity="0.62"/>
<rect x="539.54" y="183.52" width="5.3" height="5.3" fill="none" stroke="#808080" stroke-width="1.2" stroke-opacity="0.62"/>
<rect x="524.48" y="182.87" width="5.3" height="5.3" fill="none" stroke="#808080" stroke-width="1.2" stroke-opacity="0.62"/>
<rect x="502.14" y="162.74" width="5.3" height="5.3" fill="none" stroke="#808080" stroke-width="1.2" stroke-opacity="0.62"/>
<rect x="661.28" y="128.96" width="5.3" height="5.3" fill="none" stroke="#808080" stroke-width="1.2" stroke-opacity="0.62"/>
<rect x="603.13" y="198.39" width="5.3" height="5.3" fill="none" stroke="#808080" stroke-width="1.2" stroke-opacity="0.62"/>
<circle cx="605.4" cy="89.4" r="2.8" fill="#1f77b4" fill-opacity="0.75"/>
<circle cx="554.31" cy="119.87" r="2.8" fill="#1f77b4" fill-opacity="0.75"/>
<circle cx="565.83" cy="120.33" r="2.8" fill="#1f77b4" fill-opacity="0.75"/>
<circle cx="558.63" cy="124.9" r="2.8" fill="#1f77b4" fill-opacity="0.75"/>
<circle cx="561.94" cy="127.8" r="2.8" fill="#1f77b4" fill-opacity="0.75"/>
<circle cx="565.66" cy="129.87" r="2.8" fill="#1f77b4" fill-opacity="0.75"/>
<circle cx="570.63" cy="126.56" r="2.8" fill="#1f77b4" fill-opacity="0.75"/>
<circle cx="563.18" cy="132" r="2.8" fill="#1f77b4" fill-opacity="0.75"/>
<circle cx="576.42" cy="131.8" r="2.8" fill="#1f77b4" fill-opacity="0.75"/>
<circle cx="585.53" cy="120.35" r="2.8" fill="#1f77b4" fill-opacity="0.75"/>
<circle cx="590.91" cy="130.55" r="2.8" fill="#1f77b4" fill-opacity="0.75"/>
<circle cx="597.12" cy="114.55" r="2.8" fill="#1f77b4" fill-opacity="0.75"/>
<circle cx="562.35" cy="134.97" r="2.8" fill="#1f77b4" fill-opacity="0.75"/>
<circle cx="565.66" cy="136.62" r="2.8" fill="#1f77b4" fill-opacity="0.75"/>
<circle cx="560.7" cy="139.11" r="2.8" fill="#1f77b4" fill-opacity="0.75"/>
<circle cx="564.83" cy="139.11" r="2.8" fill="#1f77b4" fill-opacity="0.75"/>
<circle cx="562.76" cy="130.83" r="2.8" fill="#1f77b4" fill-opacity="0.75"/>
<circle cx="552" cy="137.86" r="2.8" fill="#1f77b4" fill-opacity="0.75"/>
<circle cx="586.36" cy="136.62" r="2.8" fill="#1f77b4" fill-opacity="0.75"/>
<circle cx="551.23" cy="151.35" r="2.8" fill="#1f77b4" fill-opacity="0.75"/>
<circle cx="578.08" cy="149.45" r="2.8" fill="#1f77b4" fill-opacity="0.75"/>
<circle cx="603.62" cy="107.34" r="2.8" fill="#1f77b4" fill-opacity="0.75"/>
<rect x="561.31" y="122.61" width="5.4" height="5.4" fill="none" stroke="#2ca02c" stroke-width="1.2" stroke-opacity="1"/>
<rect x="569.17" y="133.09" width="5.4" height="5.4" fill="none" stroke="#2ca02c" stroke-width="1.2" stroke-opacity="1"/>
<rect x="575.38" y="132.27" width="5.4" height="5.4" fill="none" stroke="#2ca02c" stroke-width="1.2" stroke-opacity="1"/>
<rect x="544.53" y="146.43" width="5.4" height="5.4" fill="none" stroke="#2ca02c" stroke-width="1.2" stroke-opacity="1"/>
<rect x="551.7" y="131.2" width="5.4" height="5.4" fill="none" stroke="#2ca02c" stroke-width="1.2" stroke-opacity="1"/>
<rect x="552.3" y="132" width="5.4" height="5.4" fill="none" stroke="#2ca02c" stroke-width="1.2" stroke-opacity="1"/>
<path d="M532.9 94.25L534.5 97.5L532.9 100.75L531.3 97.5Z" fill="none" stroke="#2ca02c" stroke-width="1.15" stroke-opacity="1" stroke-miterlimit="3"/>
<path d="M573.62 99.93L575.22 103.18L573.62 106.43L572.02 103.18Z" fill="none" stroke="#2ca02c" stroke-width="1.15" stroke-opacity="1" stroke-miterlimit="3"/>
<path d="M576.22 101.23L577.82 104.48L576.22 107.73L574.62 104.48Z" fill="none" stroke="#2ca02c" stroke-width="1.15" stroke-opacity="1" stroke-miterlimit="3"/>
<path d="M551.97 109L553.57 112.25L551.97 115.5L550.37 112.25Z" fill="none" stroke="#2ca02c" stroke-width="1.15" stroke-opacity="1" stroke-miterlimit="3"/>
<path d="M533.36 115.52L534.96 118.77L533.36 122.02L531.76 118.77Z" fill="none" stroke="#2ca02c" stroke-width="1.15" stroke-opacity="1" stroke-miterlimit="3"/>
<path d="M545.94 117.49L547.54 120.74L545.94 123.99L544.34 120.74Z" fill="none" stroke="#2ca02c" stroke-width="1.15" stroke-opacity="1" stroke-miterlimit="3"/>
<path d="M571.16 112.2L572.76 115.45L571.16 118.7L569.56 115.45Z" fill="none" stroke="#2ca02c" stroke-width="1.15" stroke-opacity="1" stroke-miterlimit="3"/>
<path d="M574.11 113.68L575.71 116.93L574.11 120.18L572.51 116.93Z" fill="none" stroke="#2ca02c" stroke-width="1.15" stroke-opacity="1" stroke-miterlimit="3"/>
<path d="M561 114.74L562.6 117.99L561 121.24L559.4 117.99Z" fill="none" stroke="#2ca02c" stroke-width="1.15" stroke-opacity="1" stroke-miterlimit="3"/>
<path d="M559.6 117.49L561.2 120.74L559.6 123.99L558 120.74Z" fill="none" stroke="#2ca02c" stroke-width="1.15" stroke-opacity="1" stroke-miterlimit="3"/>
<path d="M540.14 123.07L541.74 126.32L540.14 129.57L538.54 126.32Z" fill="none" stroke="#2ca02c" stroke-width="1.15" stroke-opacity="1" stroke-miterlimit="3"/>
<path d="M578.91 127.45L580.51 130.7L578.91 133.95L577.31 130.7Z" fill="none" stroke="#2ca02c" stroke-width="1.15" stroke-opacity="1" stroke-miterlimit="3"/>
<path d="M588.88 119.29L590.48 122.54L588.88 125.79L587.28 122.54Z" fill="none" stroke="#2ca02c" stroke-width="1.15" stroke-opacity="1" stroke-miterlimit="3"/>
<path d="M591.31 120.56L592.91 123.81L591.31 127.06L589.71 123.81Z" fill="none" stroke="#2ca02c" stroke-width="1.15" stroke-opacity="1" stroke-miterlimit="3"/>
<path d="M592.04 113.15L593.64 116.4L592.04 119.65L590.44 116.4Z" fill="none" stroke="#2ca02c" stroke-width="1.15" stroke-opacity="1" stroke-miterlimit="3"/>
<path d="M597.86 107.98L599.46 111.23L597.86 114.48L596.26 111.23Z" fill="none" stroke="#2ca02c" stroke-width="1.15" stroke-opacity="1" stroke-miterlimit="3"/>
<path d="M553.25 135.03L554.85 138.28L553.25 141.53L551.65 138.28Z" fill="none" stroke="#2ca02c" stroke-width="1.15" stroke-opacity="1" stroke-miterlimit="3"/>
<path d="M576.01 135.03L577.61 138.28L576.01 141.53L574.41 138.28Z" fill="none" stroke="#2ca02c" stroke-width="1.15" stroke-opacity="1" stroke-miterlimit="3"/>
<path d="M592.98 142.06L594.58 145.31L592.98 148.56L591.38 145.31Z" fill="none" stroke="#2ca02c" stroke-width="1.15" stroke-opacity="1" stroke-miterlimit="3"/>
<path d="M547.55 137.11L549.15 140.36L547.55 143.61L545.95 140.36Z" fill="none" stroke="#2ca02c" stroke-width="1.15" stroke-opacity="1" stroke-miterlimit="3"/>
<path d="M540.01 136.04L541.61 139.29L540.01 142.54L538.41 139.29Z" fill="none" stroke="#2ca02c" stroke-width="1.15" stroke-opacity="1" stroke-miterlimit="3"/>
<path d="M543.74 144.08L545.34 147.33L543.74 150.58L542.14 147.33Z" fill="none" stroke="#2ca02c" stroke-width="1.15" stroke-opacity="1" stroke-miterlimit="3"/>
<path d="M556.97 146.2L558.57 149.45L556.97 152.7L555.37 149.45Z" fill="none" stroke="#2ca02c" stroke-width="1.15" stroke-opacity="1" stroke-miterlimit="3"/>
<path d="M561.94 144.08L563.54 147.33L561.94 150.58L560.34 147.33Z" fill="none" stroke="#2ca02c" stroke-width="1.15" stroke-opacity="1" stroke-miterlimit="3"/>
<path d="M576.42 144.96L578.02 148.21L576.42 151.46L574.82 148.21Z" fill="none" stroke="#2ca02c" stroke-width="1.15" stroke-opacity="1" stroke-miterlimit="3"/>
<path d="M510.64 125.58L512.24 128.83L510.64 132.08L509.04 128.83Z" fill="none" stroke="#2ca02c" stroke-width="1.15" stroke-opacity="1" stroke-miterlimit="3"/>
<path d="M504.53 129.74L506.13 132.99L504.53 136.24L502.93 132.99Z" fill="none" stroke="#2ca02c" stroke-width="1.15" stroke-opacity="1" stroke-miterlimit="3"/>
<path d="M507.13 140.78L508.73 144.03L507.13 147.28L505.53 144.03Z" fill="none" stroke="#2ca02c" stroke-width="1.15" stroke-opacity="1" stroke-miterlimit="3"/>
<path d="M507.39 145.97L508.99 149.22L507.39 152.47L505.79 149.22Z" fill="none" stroke="#2ca02c" stroke-width="1.15" stroke-opacity="1" stroke-miterlimit="3"/>
<path d="M527.91 144.02L529.51 147.27L527.91 150.52L526.31 147.27Z" fill="none" stroke="#2ca02c" stroke-width="1.15" stroke-opacity="1" stroke-miterlimit="3"/>
<path d="M524.53 153.76L526.13 157.01L524.53 160.26L522.93 157.01Z" fill="none" stroke="#2ca02c" stroke-width="1.15" stroke-opacity="1" stroke-miterlimit="3"/>
<path d="M538.3 127.14L539.9 130.39L538.3 133.64L536.7 130.39Z" fill="none" stroke="#2ca02c" stroke-width="1.15" stroke-opacity="1" stroke-miterlimit="3"/>
<path d="M534.92 134.93L536.52 138.18L534.92 141.43L533.32 138.18Z" fill="none" stroke="#2ca02c" stroke-width="1.15" stroke-opacity="1" stroke-miterlimit="3"/>
<path d="M549.6 153.11L551.2 156.36L549.6 159.61L548 156.36Z" fill="none" stroke="#2ca02c" stroke-width="1.15" stroke-opacity="1" stroke-miterlimit="3"/>
<path d="M531.74 156.33L533.34 159.58L531.74 162.83L530.14 159.58Z" fill="none" stroke="#2ca02c" stroke-width="1.15" stroke-opacity="1" stroke-miterlimit="3"/>
<path d="M611.03 130.39L612.63 133.64L611.03 136.89L609.43 133.64Z" fill="none" stroke="#2ca02c" stroke-width="1.15" stroke-opacity="1" stroke-miterlimit="3"/>
<path d="M627 129.09L628.6 132.34L627 135.59L625.4 132.34Z" fill="none" stroke="#2ca02c" stroke-width="1.15" stroke-opacity="1" stroke-miterlimit="3"/>
<path d="M612.06 144.28L613.66 147.53L612.06 150.78L610.46 147.53Z" fill="none" stroke="#2ca02c" stroke-width="1.15" stroke-opacity="1" stroke-miterlimit="3"/>
<path d="M529.47 158.24L531.07 161.49L529.47 164.74L527.87 161.49Z" fill="none" stroke="#2ca02c" stroke-width="1.15" stroke-opacity="1" stroke-miterlimit="3"/>
<path d="M545.31 158.89L546.91 162.14L545.31 165.39L543.71 162.14Z" fill="none" stroke="#2ca02c" stroke-width="1.15" stroke-opacity="1" stroke-miterlimit="3"/>
<path d="M541.42 162.14L543.02 165.39L541.42 168.64L539.82 165.39Z" fill="none" stroke="#2ca02c" stroke-width="1.15" stroke-opacity="1" stroke-miterlimit="3"/>
<path d="M538.82 171.88L540.42 175.13L538.82 178.38L537.22 175.13Z" fill="none" stroke="#2ca02c" stroke-width="1.15" stroke-opacity="1" stroke-miterlimit="3"/>
<path d="M542.45 171.23L544.05 174.48L542.45 177.73L540.85 174.48Z" fill="none" stroke="#2ca02c" stroke-width="1.15" stroke-opacity="1" stroke-miterlimit="3"/>
<path d="M542.19 176.43L543.79 179.68L542.19 182.93L540.59 179.68Z" fill="none" stroke="#2ca02c" stroke-width="1.15" stroke-opacity="1" stroke-miterlimit="3"/>
<path d="M572.06 171.88L573.66 175.13L572.06 178.38L570.46 175.13Z" fill="none" stroke="#2ca02c" stroke-width="1.15" stroke-opacity="1" stroke-miterlimit="3"/>
<path d="M525.1 137.95L526.7 141.2L525.1 144.45L523.5 141.2Z" fill="none" stroke="#2ca02c" stroke-width="1.15" stroke-opacity="1" stroke-miterlimit="3"/>
<path d="M554.97 149.45L558.77 147.45L558.77 151.45Z" fill="#d62728"/>
<path d="M574.32 148.39L578.12 146.39L578.12 150.39Z" fill="#d62728"/>
<path d="M522.92 141.43L526.72 139.43L526.72 143.43Z" fill="#d62728"/>
</g>
<rect x="417.0" y="6.9" width="297.5" height="246.9" fill="none" stroke="#000" stroke-width="1.3"/>
<path d="M445.5 253.8v-3.9M445.5 6.9v3.9M487.94 253.8v-3.9M487.94 6.9v3.9M530.38 253.8v-3.9M530.38 6.9v3.9M572.82 253.8v-3.9M572.82 6.9v3.9M615.26 253.8v-3.9M615.26 6.9v3.9M657.7 253.8v-3.9M657.7 6.9v3.9M700.14 253.8v-3.9M700.14 6.9v3.9M420.04 253.8v-2.3M420.04 6.9v2.3M428.52 253.8v-2.3M428.52 6.9v2.3M437.01 253.8v-2.3M437.01 6.9v2.3M453.99 253.8v-2.3M453.99 6.9v2.3M462.48 253.8v-2.3M462.48 6.9v2.3M470.96 253.8v-2.3M470.96 6.9v2.3M479.45 253.8v-2.3M479.45 6.9v2.3M496.43 253.8v-2.3M496.43 6.9v2.3M504.92 253.8v-2.3M504.92 6.9v2.3M513.4 253.8v-2.3M513.4 6.9v2.3M521.89 253.8v-2.3M521.89 6.9v2.3M538.87 253.8v-2.3M538.87 6.9v2.3M547.36 253.8v-2.3M547.36 6.9v2.3M555.84 253.8v-2.3M555.84 6.9v2.3M564.33 253.8v-2.3M564.33 6.9v2.3M581.31 253.8v-2.3M581.31 6.9v2.3M589.8 253.8v-2.3M589.8 6.9v2.3M598.28 253.8v-2.3M598.28 6.9v2.3M606.77 253.8v-2.3M606.77 6.9v2.3M623.75 253.8v-2.3M623.75 6.9v2.3M632.24 253.8v-2.3M632.24 6.9v2.3M640.72 253.8v-2.3M640.72 6.9v2.3M649.21 253.8v-2.3M649.21 6.9v2.3M666.19 253.8v-2.3M666.19 6.9v2.3M674.68 253.8v-2.3M674.68 6.9v2.3M683.16 253.8v-2.3M683.16 6.9v2.3M691.65 253.8v-2.3M691.65 6.9v2.3M708.63 253.8v-2.3M708.63 6.9v2.3M417 235.06h3.9M714.5 235.06h-3.9M417 199.7h3.9M714.5 199.7h-3.9M417 164.34h3.9M714.5 164.34h-3.9M417 128.98h3.9M714.5 128.98h-3.9M417 93.62h3.9M714.5 93.62h-3.9M417 58.26h3.9M714.5 58.26h-3.9M417 22.9h3.9M714.5 22.9h-3.9M417 249.2h2.3M714.5 249.2h-2.3M417 242.13h2.3M714.5 242.13h-2.3M417 227.99h2.3M714.5 227.99h-2.3M417 220.92h2.3M714.5 220.92h-2.3M417 213.84h2.3M714.5 213.84h-2.3M417 206.77h2.3M714.5 206.77h-2.3M417 192.63h2.3M714.5 192.63h-2.3M417 185.56h2.3M714.5 185.56h-2.3M417 178.48h2.3M714.5 178.48h-2.3M417 171.41h2.3M714.5 171.41h-2.3M417 157.27h2.3M714.5 157.27h-2.3M417 150.2h2.3M714.5 150.2h-2.3M417 143.12h2.3M714.5 143.12h-2.3M417 136.05h2.3M714.5 136.05h-2.3M417 121.91h2.3M714.5 121.91h-2.3M417 114.84h2.3M714.5 114.84h-2.3M417 107.76h2.3M714.5 107.76h-2.3M417 100.69h2.3M714.5 100.69h-2.3M417 86.55h2.3M714.5 86.55h-2.3M417 79.48h2.3M714.5 79.48h-2.3M417 72.4h2.3M714.5 72.4h-2.3M417 65.33h2.3M714.5 65.33h-2.3M417 51.19h2.3M714.5 51.19h-2.3M417 44.12h2.3M714.5 44.12h-2.3M417 37.04h2.3M714.5 37.04h-2.3M417 29.97h2.3M714.5 29.97h-2.3M417 15.83h2.3M714.5 15.83h-2.3M417 8.76h2.3M714.5 8.76h-2.3" stroke="#000" stroke-width="1.1" fill="none"/>
<text x="445.5" y="267.1" font-size="12.9" text-anchor="middle" fill="#000" stroke="#000" stroke-width="0.22" textLength="19.93" lengthAdjust="spacingAndGlyphs">-28</text>
<text x="487.94" y="267.1" font-size="12.9" text-anchor="middle" fill="#000" stroke="#000" stroke-width="0.22" textLength="19.93" lengthAdjust="spacingAndGlyphs">-26</text>
<text x="530.38" y="267.1" font-size="12.9" text-anchor="middle" fill="#000" stroke="#000" stroke-width="0.22" textLength="19.93" lengthAdjust="spacingAndGlyphs">-24</text>
<text x="572.82" y="267.1" font-size="12.9" text-anchor="middle" fill="#000" stroke="#000" stroke-width="0.22" textLength="19.93" lengthAdjust="spacingAndGlyphs">-22</text>
<text x="615.26" y="267.1" font-size="12.9" text-anchor="middle" fill="#000" stroke="#000" stroke-width="0.22" textLength="19.93" lengthAdjust="spacingAndGlyphs">-20</text>
<text x="657.7" y="267.1" font-size="12.9" text-anchor="middle" fill="#000" stroke="#000" stroke-width="0.22" textLength="19.93" lengthAdjust="spacingAndGlyphs">-18</text>
<text x="700.14" y="267.1" font-size="12.9" text-anchor="middle" fill="#000" stroke="#000" stroke-width="0.22" textLength="19.93" lengthAdjust="spacingAndGlyphs">-16</text>
<text x="410.4" y="239.56" font-size="12.9" text-anchor="end" fill="#000" stroke="#000" stroke-width="0.22" textLength="19.93" lengthAdjust="spacingAndGlyphs">-14</text>
<text x="410.4" y="204.2" font-size="12.9" text-anchor="end" fill="#000" stroke="#000" stroke-width="0.22" textLength="19.93" lengthAdjust="spacingAndGlyphs">-12</text>
<text x="410.4" y="168.84" font-size="12.9" text-anchor="end" fill="#000" stroke="#000" stroke-width="0.22" textLength="19.93" lengthAdjust="spacingAndGlyphs">-10</text>
<text x="410.4" y="133.48" font-size="12.9" text-anchor="end" fill="#000" stroke="#000" stroke-width="0.22" textLength="12.16" lengthAdjust="spacingAndGlyphs">-8</text>
<text x="410.4" y="98.12" font-size="12.9" text-anchor="end" fill="#000" stroke="#000" stroke-width="0.22" textLength="12.16" lengthAdjust="spacingAndGlyphs">-6</text>
<text x="410.4" y="62.76" font-size="12.9" text-anchor="end" fill="#000" stroke="#000" stroke-width="0.22" textLength="12.16" lengthAdjust="spacingAndGlyphs">-4</text>
<text x="410.4" y="27.4" font-size="12.9" text-anchor="end" fill="#000" stroke="#000" stroke-width="0.22" textLength="12.16" lengthAdjust="spacingAndGlyphs">-2</text>
<text x="565.8" y="280" font-size="12.9" text-anchor="middle" fill="#000" stroke="#000" stroke-width="0.22" textLength="51.16" lengthAdjust="spacingAndGlyphs">V (km/s)</text>
<text transform="translate(382.5 130.4) rotate(-90)" font-size="12.9" stroke="#000" stroke-width="0.22" text-anchor="middle" textLength="51.74" lengthAdjust="spacingAndGlyphs">U (km/s)</text>
<text x="592.6" y="74.6" font-size="11.4" text-anchor="start" fill="#777" stroke="#777" stroke-width="0.15" textLength="35.97" lengthAdjust="spacingAndGlyphs">3 km s</text>
<text x="628.2" y="68.3" font-size="7.9" text-anchor="start" fill="#777" stroke="#777" stroke-width="0.1" textLength="8.2" lengthAdjust="spacingAndGlyphs">−1</text>
<rect x="61.6" y="14.5" width="102.7" height="71.7" fill="#fff" stroke="#000" stroke-width="1"/>
<path d="M66.3 24.7L70.67 22.4L70.67 27Z" fill="#d62728"/>
<text x="76.2" y="26.9" font-size="6.36" text-anchor="start" fill="#d62728" textLength="76.37" lengthAdjust="spacingAndGlyphs">Oh et al. (2017) group 59</text>
<rect x="65.7" y="32.3" width="5.8" height="5.8" fill="none" stroke="#888" stroke-width="1.25" stroke-opacity="1"/>
<text x="76.2" y="37.4" font-size="6.36" text-anchor="start" fill="#888" textLength="29.86" lengthAdjust="spacingAndGlyphs">Theia 209</text>
<rect x="65.8" y="42.9" width="5.6" height="5.6" fill="none" stroke="#2ca02c" stroke-width="1.3" stroke-opacity="1"/>
<text x="76.2" y="47.9" font-size="6.36" text-anchor="start" fill="#2ca02c" textLength="79.76" lengthAdjust="spacingAndGlyphs">Theia 209 (UVW selection)</text>
<path d="M68.6 53.2L70 56.2L68.6 59.2L67.2 56.2Z" fill="none" stroke="#666" stroke-width="1.25" stroke-opacity="1" stroke-miterlimit="3"/>
<text x="76.2" y="58.4" font-size="6.36" text-anchor="start" fill="#888" textLength="29.86" lengthAdjust="spacingAndGlyphs">Theia 133</text>
<path d="M68.6 63.7L70 66.7L68.6 69.7L67.2 66.7Z" fill="none" stroke="#2ca02c" stroke-width="1.3" stroke-opacity="1" stroke-miterlimit="3"/>
<text x="76.2" y="68.9" font-size="6.36" text-anchor="start" fill="#2ca02c" textLength="79.76" lengthAdjust="spacingAndGlyphs">Theia 133 (UVW selection)</text>
<circle cx="68.6" cy="77.2" r="2.6" fill="#1f77b4" fill-opacity="1"/>
<text x="76.2" y="79.4" font-size="6.36" text-anchor="start" fill="#1f77b4" textLength="28.61" lengthAdjust="spacingAndGlyphs">Crius 226</text>
<rect x="425.5" y="17.1" width="103.8" height="72.4" fill="#fff" stroke="#000" stroke-width="1"/>
<path d="M430.2 27.4L434.57 25.1L434.57 29.7Z" fill="#d62728"/>
<text x="440.1" y="29.6" font-size="6.36" text-anchor="start" fill="#d62728" textLength="76.37" lengthAdjust="spacingAndGlyphs">Oh et al. (2017) group 59</text>
<rect x="429.6" y="35" width="5.8" height="5.8" fill="none" stroke="#888" stroke-width="1.25" stroke-opacity="1"/>
<text x="440.1" y="40.1" font-size="6.36" text-anchor="start" fill="#888" textLength="29.86" lengthAdjust="spacingAndGlyphs">Theia 209</text>
<rect x="429.7" y="45.6" width="5.6" height="5.6" fill="none" stroke="#2ca02c" stroke-width="1.3" stroke-opacity="1"/>
<text x="440.1" y="50.6" font-size="6.36" text-anchor="start" fill="#2ca02c" textLength="79.76" lengthAdjust="spacingAndGlyphs">Theia 209 (UVW selection)</text>
<path d="M432.5 55.9L433.9 58.9L432.5 61.9L431.1 58.9Z" fill="none" stroke="#666" stroke-width="1.25" stroke-opacity="1" stroke-miterlimit="3"/>
<text x="440.1" y="61.1" font-size="6.36" text-anchor="start" fill="#888" textLength="29.86" lengthAdjust="spacingAndGlyphs">Theia 133</text>
<path d="M432.5 66.4L433.9 69.4L432.5 72.4L431.1 69.4Z" fill="none" stroke="#2ca02c" stroke-width="1.3" stroke-opacity="1" stroke-miterlimit="3"/>
<text x="440.1" y="71.6" font-size="6.36" text-anchor="start" fill="#2ca02c" textLength="79.76" lengthAdjust="spacingAndGlyphs">Theia 133 (UVW selection)</text>
<circle cx="432.5" cy="79.9" r="2.6" fill="#1f77b4" fill-opacity="1"/>
<text x="440.1" y="82.1" font-size="6.36" text-anchor="start" fill="#1f77b4" textLength="28.61" lengthAdjust="spacingAndGlyphs">Crius 226</text>
<text class="serif" x="39.4" y="305.4" font-size="13" fill="#000" textLength="15.3" lengthAdjust="spacingAndGlyphs">(a)</text>
<text class="serif" x="60.6" y="305.4" font-size="13" fill="#2a2a8c" textLength="16.8" lengthAdjust="spacingAndGlyphs">Oh</text>
<text class="serif" x="81.3" y="305.4" font-size="13" fill="#2a2a8c" textLength="9.5" lengthAdjust="spacingAndGlyphs">et</text>
<text class="serif" x="93.4" y="305.4" font-size="13" fill="#2a2a8c" textLength="14.8" lengthAdjust="spacingAndGlyphs">al.</text>
<text class="serif" x="115.3" y="305.4" font-size="13" fill="#2a2a8c" textLength="33.5" lengthAdjust="spacingAndGlyphs">(2017)</text>
<text class="serif" x="153.9" y="305.4" font-size="13" fill="#000" textLength="33.9" lengthAdjust="spacingAndGlyphs">Group</text>
<text class="serif" x="193.2" y="305.4" font-size="13" fill="#000" textLength="11.6" lengthAdjust="spacingAndGlyphs">59</text>
<text class="serif" x="210.2" y="305.4" font-size="13" fill="#000" textLength="36" lengthAdjust="spacingAndGlyphs">corona</text>
<text class="serif" x="250.8" y="305.4" font-size="13" fill="#000" textLength="11.2" lengthAdjust="spacingAndGlyphs">in</text>
<text class="serif" x="266.1" y="305.4" font-size="13" fill="#000" font-style="italic" textLength="20.4" lengthAdjust="spacingAndGlyphs">XY</text>
<text class="serif" x="291.4" y="305.4" font-size="13" fill="#000" textLength="29.5" lengthAdjust="spacingAndGlyphs">space</text>
<text class="serif" x="405.1" y="305.4" font-size="13" fill="#000" textLength="16.3" lengthAdjust="spacingAndGlyphs">(b)</text>
<text class="serif" x="426.6" y="305.4" font-size="13" fill="#2a2a8c" textLength="16.8" lengthAdjust="spacingAndGlyphs">Oh</text>
<text class="serif" x="447.5" y="305.4" font-size="13" fill="#2a2a8c" textLength="9.5" lengthAdjust="spacingAndGlyphs">et</text>
<text class="serif" x="459.4" y="305.4" font-size="13" fill="#2a2a8c" textLength="14.8" lengthAdjust="spacingAndGlyphs">al.</text>
<text class="serif" x="480.9" y="305.4" font-size="13" fill="#2a2a8c" textLength="33.5" lengthAdjust="spacingAndGlyphs">(2017)</text>
<text class="serif" x="519.8" y="305.4" font-size="13" fill="#000" textLength="33.9" lengthAdjust="spacingAndGlyphs">Group</text>
<text class="serif" x="558.7" y="305.4" font-size="13" fill="#000" textLength="11.6" lengthAdjust="spacingAndGlyphs">59</text>
<text class="serif" x="576.1" y="305.4" font-size="13" fill="#000" textLength="36" lengthAdjust="spacingAndGlyphs">corona</text>
<text class="serif" x="616.5" y="305.4" font-size="13" fill="#000" textLength="11.2" lengthAdjust="spacingAndGlyphs">in</text>
<text class="serif" x="631" y="305.4" font-size="13" fill="#000" font-style="italic" textLength="19.7" lengthAdjust="spacingAndGlyphs">UV</text>
<text class="serif" x="656.1" y="305.4" font-size="13" fill="#000" textLength="29.4" lengthAdjust="spacingAndGlyphs">space</text>
</svg></body></html>
